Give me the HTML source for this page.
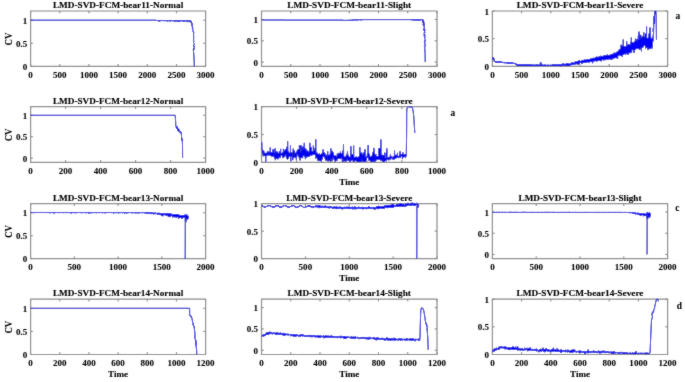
<!DOCTYPE html>
<html><head><meta charset="utf-8"><style>
html,body{margin:0;padding:0;background:#fff;}
svg{display:block;}
text{stroke:#000;stroke-width:0.12px;}
text.k{stroke-width:0.08px;}
</style></head><body>
<svg width="685" height="382" viewBox="0 0 685 382" font-family="Liberation Serif, serif" font-weight="bold" font-size="8.6" fill="#000">
<defs><filter id="bl" x="0" y="0" width="685" height="382" filterUnits="userSpaceOnUse"><feConvolveMatrix order="3" kernelMatrix="1 2 1 2 24 2 1 2 1" divisor="36" edgeMode="duplicate"/></filter>
<filter id="bt" x="0" y="0" width="685" height="382" filterUnits="userSpaceOnUse"><feConvolveMatrix order="3" kernelMatrix="1 2 1 2 24 2 1 2 1" divisor="36" preserveAlpha="false" edgeMode="none"/></filter></defs>
<g filter="url(#bl)" stroke-linejoin="round">
<rect width="685" height="382" fill="#fff"/>
<path d="M30.6 66.35v-2.3M30.6 11v2.3M59.77 66.35v-2.3M59.77 11v2.3M88.93 66.35v-2.3M88.93 11v2.3M118.1 66.35v-2.3M118.1 11v2.3M147.27 66.35v-2.3M147.27 11v2.3M176.43 66.35v-2.3M176.43 11v2.3M205.6 66.35v-2.3M205.6 11v2.3M30.6 66.35h2.3M205.6 66.35h-2.3M30.6 43.29h2.3M205.6 43.29h-2.3M30.6 20.22h2.3M205.6 20.22h-2.3" stroke="#505050" stroke-width="0.8" fill="none"/>
<rect x="30.6" y="11" width="175" height="55.35" stroke="#868686" stroke-width="1.2" fill="none"/>
<defs><path id="c0" d="M30.6 20.2l125.4 0 .1 .2 .1 .2 .2-.2 .1 .4 .1-.1 .1-.3 .1 .1 .2 0 .1-.1 .1 0 .1-.1 .1 .2 .1 .1 .1-.3 .2 .2 .1 0 .1-.2 .1 .1 .1 .2 .2-.2 .1-.1 .1 .1 .1 .5 .1-.2 .1 .8 .1-.4 .2-.8 .1 .2 .1-.1 .1 0 .1 .8 .2-.4 .1-.4 .1 .8 .1-.6 .1 0 .1-.1 .1 .5 .2-.6 .1-.1 .1 .6 .1-.3 .1-.3 .2 .4 .1-.4 .2 0 .1 .2 .1 .1 .1 .1 .2-.2 .1 .2 .1-.1 .1-.1 .1 .2 .1 .1 .2-.1 .1-.4 .1 .6 .1-.4 .1-.2 .1 .1 .2 .4 .1 0 .1-.4 .1 .1 .1-.1 .2 .3 .1 .4 .1-.7 .1 .5 .1-.4 .1 .2 .1 0 .2-.2 .1 .3 .1-.3 .1 .5 .1-.6 .2 .2 .1 .1 .1-.3 .1 .7 .1-.2 .1-.1 .1-.1 .2 0 .1-.3 .1 .2 .1 0 .1 .2 .2-.3 .1-.1 .1 .1 .1 .4 .1 .5 .1-1 .1 0 .2 .6 .1-.5 .1 .2 .1 .1 .1-.4 .2 .3 .1 .2 .1-.3 .1 .2 .1 .3 .1 .1 .1-.8 .2 .3 .1-.2 .1 0 .1 .3 .1-.4 .1 0 .2 .3 .1-.1 .1 .3 .1-.2 .1 .4 .1 0 .2 .5 .1-.9 .1 .9 .1-.7 .1 .1 .2-.3 .1 .1 .1-.1 .1-.1 .1 .1 .1-.1 .1 0 .2-.1 .1 .3 .1-.2 .1 .3 .1-.5 .2 .6 .1-.1 .1 .2 .1-.6 .1 0 .1 .2 .1-.1 .4 0 .1 .4 .1-.2 .2-.1 .1 .2 .1 0 .1-.3 .1 .6 .1-.2 .1-.5 .2 1 .1-1 .1 .4 .1-.3 .1 .2 .2-.2 .1 .2 .1 0 .1 .6 .1-.8 .1 .2 .1-.3 .4 0 .1 .1 .1 .7 .1-.4 .2-.1 .1 .2 .1-.2 .1 .3 .1-.4 .1-.1 .2 .3 .1 .9 .1-.9 .1 .1 .1-.1 .2-.3 .1 .6 .1-.6 .1 .1 .1 .4 .1-.1 .1 .8 .2-1.3 .1 .8 .1-.3 .1-.4 .1 .2 .2 .2 .1 .4 .1 .1 .1-.5 .1-.3 .1 .2 .1-.3 .2 .5 .1 .3 .1-.4 .1-.3 .1 .1 .2 0 .1-.1 .1 .1 .1-.2 .1 .5 .1-.3 .1-.1 .2 0 .1-.1 .1 .1 .1 .2 .1-.2 .2-.1 .1 .3 .1-.1 .1 .4 .1-.4 .1 .3 .1-.2 .2-.2 .1 .1 .1 0 .1 .7 .1-.7 .1-.1 .2 .5 .1-.3 .1 0 .1 .2 .1-.5 .1 .1 .2 0 .1 .6 .1 .1 .1-.5 .1 .4 .2-.4 .1-.1 .2 0 .1-.2 .1 .1 .1 .3 .2-.1 .1-.1 .1 .2 .1-.3 .1 .1 .2-.1 .1 .3 .1-.1 .1 .5 .1-.3 .1-.4 .1 .6 .2-.7 .1 .1 .1 .4 .1 0 .1-.2 .2-.1 .1 1 .1 .3 .1-1.1 .2 0 .1-.3 .2 .8 .1-.6 .1 .2 .1-.2 .1-.1 .2 .1 .1 .2 .1-.2 .1-.1 .1 .2 .1 .3 .1-.5 .2 .3 .1 0 .1-.4 .1 .3 .1-.3 .6 .2-.6 .5 1 0-.7-.3 .8 2-.7-.9 1.4 .9-1.1-.6 1.2 1.2-.6 .1 .5 .1-.7 .3 1.1 .7-.6 .9 .6 .4-1-.2 1.4 1.1-.8 1.7 .6-.2 0 1.1 .3 .7-.1 1.5 1 .5-.7 1.8 .4 .3-.3 1.7 .6 .6-.5 1.1 .2 1.9-.1 .9 .4 1.2-.7 .6 1.2 1.1-.9 1.7 .5 .1-.9 .7 1.3 .2-.7 2.6 .8 .3-1.3-.1 .7 8 .2 5.6 .1 3.7"/></defs>
<use href="#c0" stroke="#1616a8" stroke-width="0.95" fill="none"/>
<use href="#c0" stroke="#0000ff" stroke-width="0.5" fill="none"/>
<path d="M261.5 66.35v-2.3M261.5 11v2.3M290.75 66.35v-2.3M290.75 11v2.3M320 66.35v-2.3M320 11v2.3M349.25 66.35v-2.3M349.25 11v2.3M378.5 66.35v-2.3M378.5 11v2.3M407.75 66.35v-2.3M407.75 11v2.3M437 66.35v-2.3M437 11v2.3M261.5 62.09h2.3M437 62.09h-2.3M261.5 40.8h2.3M437 40.8h-2.3M261.5 19.52h2.3M437 19.52h-2.3" stroke="#505050" stroke-width="0.8" fill="none"/>
<rect x="261.5" y="11" width="175.5" height="55.35" stroke="#868686" stroke-width="1.2" fill="none"/>
<defs><path id="c1" d="M261.5 19.5l.1 .1 .3 0 .1 .1 .1 0 .1 .1 .2 0 .2 .1 .1 0 .1 .1 22.5 0 .1 .1 58 0 .1 .4 .1-.1 .2-.2 .1 .2 .1-.1 .1-.1 .1-.1 .1 .4 .2-.4 .1 .2 .1 0 .1-.2 .1 0 .1 .3 .2-.2 .3 0 .1-.1 .3 0 .1 .4 .1-.4 .1 0 .1 .1 .1 0 .2 .2 .1-.2 .1-.1 .1 .4 .1-.1 .1-.3 .2 .1 .1-.1 .1 .2 .1-.1 .1 .4 .1-.4 .2 .1 .1-.2 .1 .2 .1-.1 .1 0 .1-.1 .2 .1 .1-.2 .3 0 .1 .1 .2-.1 .1 0 .1 .2 .1-.1 .1-.1 .2 0 .1 .3 .1-.3 .1 .4 .1-.4 .1 0 .2 .1 .1-.1 .1-.1 .1 .3 .1 0 .1-.2 .2 .1 .1 .1 .1 0 .1-.1 .1-.1 .1 0 .2-.1 .1 .2 .1 .3 .1-.3 .1-.2 .1 0 .2 .1 .1 0 .1-.1 .1 0 .1 .4 .1-.5 .2 .4 .1 .1 .1-.5 .1 .4 .1-.2 .1-.1 .2 0 .1-.1 .1 .1 .1-.1 .1 0 .1 .1 .2 .1 .1-.2 .1 .4 .1-.4 .1 .1 .2-.1 .1 0 .1 .1 .1 0 .1-.1 .1 .1 .2 .1 .1-.2 .1 .6 .1-.6 .1 .2 .1 0 .2-.2 .1 .1 .1 .1 .1-.2 .1 .2 .1-.2 .2-.1 .1 .1 .1 0 .1 .4 .1-.5 .1 0 .2 .3 .1 .2 .1-.2 .1-.1 .1 .1 .1-.1 .2 0 .1-.1 .1 0 .1-.1 .1 .3 .1-.2 .2 .3 .1-.1 .1-.2 .1-.1 .1 .1 .1-.1 .2 .1 .1 .1 .1 0 .1-.1 .1 .2 .2 0 .1 .2 .1-.4 .1-.2 .1 .4 .1 0 .2 .1 .1-.2 .1-.2 .1 0 .1 .1 .1-.1 .2 .2 .1-.2 .1 .4 .1-.2 .1 0 .1-.3 .2 .3 .1-.1 .1 0 .1-.2 .1 .3 .1-.2 .2 .2 .1-.3 46.9 0 .1 .4 .1 0 .1-.2 .2 .1 .1 .2 .1-.2 .1 .1 .1-.1 .1-.2 .2-.1 .1 .1 .1 .1 .1 .1 .1 .1 .1-.1 .2-.1 .1-.2 .1 .1 .1 .5 .1-.5 .1 .5 .2-.5 .1 .5 .1-.4 .1 .1 .1-.3 .2 .7 .1-.1 .1-.2 .1-.4 .1 .1 .1 .1 .2-.1 .1 .2 .1-.2 .1 .1 .1 .1 .1 0 .2 .6 .1-.5 .1-.4 .1 1 .1-.9 .1 0 .2 .4 .1 0 .1-.3 .1 0 .1 .2 .1-.3 .2 .4 .1-.2 .1-.1 .1 .4 .1-.5 .1 0 .2 .5 .1-.6 .1 .1 .1 .4 .1-.3 .1 .5 .2-.2 .1-.5 .1 .5 .1-.5 .1 .3 .1-.2 .2 .1 .2 0 .1 .4 .1-.3 .1-.2 .2 .1 .1 .1 .1-.1 .1-.1 .1 .8 .2-.3 .1-.5 .1 0 .1 .5 .1 0 .1-.4 .2 .1 .1 0 .1-.1 .1-.1 .1 .1 .1-.2 .2 .1 .1 .1 .1-.2 .7-.1-.4 .7 1.2-.2-.8 .6 1.1 .4-1.4 .3 1-.3-.7 .1 1.5 .2-1.5 1.3 1.1-.4-.9-.2 1.6 .1-.9 .9 .6 .6-1.2 1.1 1.3-1.4-.5 1.8 1-.7-.7 .6 .6 1-.8 1.1 .9 .3-1 1.2 1.2 .1-1 .7 1.3 .4-1.6 .5 1.7 .3-1.2 1.6 1.1 0-1 1.5 .7 .7-.9 .5 1.5 .8-1.6-.2 1.1 .7-.5 .5 1 1.2-1.4 .5 1.5 1.2-.9 1.1 1 .1-1.2 .9 .7 1.4-.5 .1 1.2 1.8-1.7 .2 1 1-.4 .8 .4 6.6 .1 8.5"/></defs>
<use href="#c1" stroke="#1616a8" stroke-width="0.95" fill="none"/>
<use href="#c1" stroke="#0000ff" stroke-width="0.5" fill="none"/>
<path d="M492.4 66.35v-2.3M492.4 11v2.3M521.6 66.35v-2.3M521.6 11v2.3M550.8 66.35v-2.3M550.8 11v2.3M580 66.35v-2.3M580 11v2.3M609.2 66.35v-2.3M609.2 11v2.3M638.4 66.35v-2.3M638.4 11v2.3M667.6 66.35v-2.3M667.6 11v2.3M492.4 66.35h2.3M667.6 66.35h-2.3M492.4 38.67h2.3M667.6 38.67h-2.3M492.4 11h2.3M667.6 11h-2.3" stroke="#505050" stroke-width="0.8" fill="none"/>
<rect x="492.4" y="11" width="175.2" height="55.35" stroke="#868686" stroke-width="1.2" fill="none"/>
<defs><path id="c2" d="M492.4 59.5l.1-.8 0-.1 .1-.4 0 .1 .1 .2 .1-.5 .1-.6 0-.3 .1 .2 0 .2 .1-.1 .1-.2 0 .5 .1-.5 0 .2 .1 .4 .1 .1 .1 .5 0 .2 .1-.2 0 .3 .1-.2 .1 .9 0 .5 .1-.6 0 .3 .1 .7 .1 .4 0-.2 .1 .7 0-.2 .1 .8 0-.4 .1 .6 .1-.5 0-.5 .1 .5 0-.2 .1 .4 .1 .1 0 .1 .1-.6 0 .3 .1-.5 0 .8 .1-.2 .1-.1 0-.3 .1-.1 0 .7 .1 .1 .1 .2 0-.8 .1 .4 0 .1 .1-.1 0 .7 .1-.2 .1-.7 0 .1 .1 .1 0 .3 .1-.4 .1-.3 0 .8 .1-.3 0 .1 .1-.2 0 .1 .1 .1 .1 .2 0-.2 .1 .1 0-.1 .1 0 .1-.2 0 .3 .1 0 0-.4 .1 .4 .1-.3 .1 .1 0 .1 .1 0 0 .4 .1-.5 .1-.2 0 .2 .1 .6 0-.5 .1 .3 0-.2 .1-.1 .1 .4 0-.7 .1 .4 0-.2 .1 0 .1-.2 0 .1 .1 .7 0-.4 .1 .6 0-.5 .1-.3 .1 0 0-.1 .1 .4 0-.1 .1 0 .1-.3 0-.1 .1 .6 0-1.2 .1 1.1 0 .1 .1-.3 .1 0 .1 .4 0-.6 .1 .4 .1-.4 .1 .8 0-.1 .1 0 .1-.3 .1 0 0 .3 .1-.4 0-.2 .1 .7 .1-.3 0-.1 .1 .1 .1-.5 .1 .1 0 .2 .1 .4 0-.8 .1 .5 0 .3 .1-.1 .1 .1 0-.8 .1 .6 .1 .6 .1-.8 0 .5 .1 .1 0-.5 .1 .4 0-.5 .1 0 .1 .8 0-.5 .1 .4 0-.4 .1-.2 .1 .6 0-.9 .1 .6 0 .3 .1-.3 0-.3 .1 .6 .1-.4 0 .4 .1-.7 0 .3 .1 .2 .1-.4 0 .6 .1-.2 0-.6 .1 .5 0-.4 .1 .3 .1 .3 0-.1 .1-.1 0 .1 .1 .2 .1-.1 0 .2 .1-.4 0-.1 .1-.1 0 .8 .1-.8 .1 .3 0 .4 .1-.4 0-.2 .2 0 0-.1 .1 .1 0 .2 .1 .6 0-.4 .1-.3 .1 .3 0-.4 .1 0 0 .2 .1-.5 .1 .8 0-.5 .1 .4 0 .1 .1-.4 0 .3 .1-.4 .1 .6 0-.3 .1 .2 0-.1 .1 0 .1 .2 0-.5 .1 .6 0-.1 .1-.5 .1 .1 .1 .1 0-.6 .1 1 0-.1 .1 0 .1-.5 0 .2 .1-.2 .1 .4 0 .1 .1 .1 .1-.9 0 .3 .1 .2 0 .2 .2 0 .1 .6 0-.6 .1 .1 .1-.2 .1-.2 0 .3 .1-.2 0 .9 .1-.4 .1-.8 0 .8 .1-.2 0-.3 .1 .5 .1-.5 0 .6 .1 .2 0-.2 .1 .1 0-.5 .1 .1 .1-.1 0 .3 .1-.9 0 .7 .1 0 .1-.2 0 .2 .1 .2 0-.2 .1-.3 0 .1 .1-.1 .1 .5 .1-.7 0 .6 .1-.2 .1-.1 0-.2 .1 .8 0-.2 .1 0 0-.1 .1 .6 .1-.6 0 .8 .1-.9 0-.1 .1 0 .1 .5 0-.6 .1 .5 0 .1 .1 0 .1-.3 .1-.2 0 .8 .1-.4 0-.4 .1 .2 .1-.1 0 .6 .1-.7 0 .7 .1-.5 0-.3 .1-.1 .1 .3 0-.1 .1 .5 0-.1 .1-.4 .1 .3 0 .1 .1 .3 0-.4 .1-.1 0 .4 .1-.1 .1-.6 0 .4 .1 .1 0 .3 .1-.2 .1-.1 0-.4 .1 .6 0-.7 .1 .7 0-.1 .1-.3 .1 .3 0 .1 .1-.1 0-.2 .1 .6 .1-.4 .1 .1 0-.4 .1 .4 .1-.1 .1-.2 0 .2 .1-.4 0 .6 .1-.6 .1 .6 0-.2 .1-.1 0-.5 .1 .4 0 .3 .1-.4 .1 .4 0 .2 .1-.4 0 .1 .1-.2 .1 .4 0-.2 .1-.1 0 .1 .1 .1 .1 .2 0-.4 .1 .2 .1 .2 .1 .3 .1-.3 0-.1 .1 .2 0-.2 .1 .2 .1-.3 0 .5 .1 .4 0-.5 .1 .2 0 .2 .1-.4 .1 .2 0-.1 .1 .3 0-.1 .1 0 .1-.4 0 .7 .1-.1 0-.1 .1 .6 .1-1 .1 1.1 0-.6 .1 .4 .1 .4 .1-.3 0-.4 .1 .7 0-.6 .1 .1 0-.5 .1 .7 .1-.4 0 .1 .1 .3 0 .4 .1-.9 .1 .8 0-.3 .1-.3 0-.1 .1 .6 0-.3 .1 .1 .1-.4 0-.4 .1 1.2 0-.7 .1 1 .1-.8 0 .3 .1-.8 0 .5 .1 .2 .1 0 .1-.2 0 .1 .1-.2 0-.3 .1 .3 .1 .5 0 .1 .1-.2 0-.5 .1 .4 .1-.2 .1 .5 0-.1 .1-.5 0 .3 .1 0 .1-.2 0 .2 .1 .1 0-.1 .1-.3 0 .2 .1 .3 .1-.2 0-.3 .1-.3 0 .8 .1-.4 .1 .2 0-.3 .1 .1 0-.3 .1 .3 0 .2 .1 0 .1-.2 .1-.6 0 .2 .1 .8 .1-.4 0 .5 .1 .1 0-.7 .1 .1 0 .4 .1-.7 .1 .7 .1-.5 0 .2 .1 .1 .1-.1 .1 .1 .1 .5 .1-.2 0-.5 .1 .3 0-.3 .1-.2 0 .4 .1-.1 .1-.5 0 .4 .1-.4 0 .1 .1 .2 .1 .3 0 .2 .1 .1 0-.5 .1 0 0 .2 .1-.3 .1 .4 0-.4 .1 .3 .2 0 0-.7 .1 1.1 0-.5 .1-.3 0 .2 .1 .3 .1-.6 0 .8 .1 0 0-.5 .1 .6 .1 .3 0-.9 .1 0 .1 .3 0-.1 .1 .3 .1-.8 0 .3 .1 0 0 .7 .1-.7 .1-.2 0 .1 .1 .1 0 .2 .1 .1 0-.2 .1 0 .1 .1 0 .1 .1-.5 0 .8 .1-.4 .1 .2 0-.5 .1-.1 0 .1 .1 .1 0 .6 .1-.9 .1 .4 0 .2 .1-.1 0 .1 .1-.2 .1 .1 0 .2 .1 .6 0-.7 .1-.2 .1 .2 .1-.2 0-.1 .1 .4 0-.5 .1 .9 .1-.2 0-.1 .1 .4 0-.3 .1-.7 .1 .4 .1-.5 0 .4 .1 .2 0-.2 .1 .1 .1-.2 0 .6 .1-.7 0 .4 .1-.3 0 .6 .1-.3 .1-.1 0-.2 .1 .5 0-.8 .1 .4 .1 .3 0-.5 .1 .3 0-.3 .1-.3 0 .4 .1 .4 .1-.1 0-.2 .1 0 0 .4 .1-.1 .1-.4 0-.4 .1 1.4 0-1 .1 .3 .1-.3 .1 .2 0 .3 .1 .1 0 .2 .1-.9 .1 .4 0 .1 .1-.1 0 .3 .1-.4 .1-.3 .1 .8 0-.8 .1 .6 0 .3 .1-.2 .1-.1 0-.2 .1 .3 0 .1 .1-.4 .1-.6 0 .8 .1-.4 0 .2 .1-.8 0 1.3 .1-.8 .1 .6 0-.2 .1-.1 0-.9 .1 1.1 .1 .3 0-.9 .1 .6 0-.1 .1-.1 .1 0 .1-.1 .1-.1 0 .3 .1 .1 .1 .1 0-.5 .1 .2 0-.1 .1 0 0-.3 .1 .4 .1-.2 0 .6 .1-.1 0-.2 .1 .3 .1-.6 0 .6 .1-.4 0 .7 .1-.4 0-.2 .1 0 .1 .4 0-.5 .1-.2 0 .1 .1 .3 .1 0 0 .2 .1-.5 0-.3 .1 .6 0 .3 .1-.5 .1-.1 0 .9 .1-.8 0-.5 .1 .3 .1 .1 .1-.1 0 .5 .1 0 0-.4 .1 .3 .1-.2 0 .6 .1-.7 0-.1 .1 .3 .1-.1 0-.4 .1 .8 0-.1 .1 .1 0-.2 .1 .1 .1-.2 0 .1 .1 .3 .1-.8 .1 .4 .1 0 .1-.2 .1 .3 .1 .1 0 .1 .1 0 0-.7 .1 .6 .1 .3 0-.3 .1 0 0-.3 .1 .3 .1-.4 0 .1 .1-.3 0-.2 .1-.2 0 .4 .1 .7 .1-.2 0-.2 .1-.5 0 .4 .1-.1 .1 .3 0-.2 .1 0 0 .3 .1-.3 0-.1 .1 .3 .1-.3 0-.2 .1 .5 .1 .1 .1 .1 0-.2 .1 .1 .1 .1 0 .2 .1-.1 .1-.4 0 .4 .1-.1 0-.6 .1 .1 .1 .5 0-.4 .1 .4 0-.6 .1 .6 0-.2 .1-.4 .1 .6 0-.5 .1 .5 0-.2 .1 .1 .1-.1 .1 0 0 .3 .1-.5 .1-.1 .1-.1 0 .8 .1-.7 .1 .5 .1-.5 0-.1 .1 .6 0 .2 .1-.3 0-2.9 .8 0 .1 3.2 .1-.3 0-.2 .1 .2 .1-.2 0-.1 .1 .1 0 .4 .1-.2 0-.4 .1 .6 .1-.2 0 .1 .1-.1 0 .3 .1 0 .1-1.1 0 .5 .1 .5 0-.2 .1-.2 0 .3 .1-.3 .1 .3 .1-.1 0 .1 .1 .5 .1-.6 0-.1 .1-.1 0 .4 .1-.3 .1 .6 .1 .1 0-.8 .1 .4 0-.5 .1-.3 .1 .7 0 .1 .1-.2 0-.2 .1 .5 .1-.7 0 .1 .1 .1 0 .3 .1-.4 .1 .6 .1-.9 0 .7 .1-.2 0 .2 .1-.2 .1-.2 0 .5 .1 .2 0-.3 .1 .2 0-.1 .1-.2 .1 0 0-.4 .1 .7 0-.4 .1 .2 .1-.5 0-.3 .1 .6 0-.4 .1 .6 0 .3 .2 0 0-.1 .1-.2 0-.4 .1 .1 .1 .1 0 .2 .1 .1 0-.2 .1 0 0-.1 .1 0 .1 .1 0 .5 .1-.2 0-.1 .1-.7 .1 .6 0-.3 .1-.2 0 .3 .1 .2 .1 .2 .1-.4 0-.2 .1 .2 0-.1 .1 0 .1-.3 0 .7 .1-.2 0-.2 .1-.1 0 1 .1-.5 .1-.1 0 .2 .1-.5 0 .2 .1 .1 .1 .4 0-.1 .1-.1 0-.4 .1 .5 0 .2 .1-.2 .1-.2 0-.6 .1-.3 0 .9 .1-.4 .1-.1 .1 .4 0 .3 .1-.2 0 .4 .1-.6 .1-.2 0 .8 .1-.5 0-.1 .1-.3 .1 0 0 .1 .1 .4 .1-.5 0 .5 .1-.1 .1-.5 0 .4 .1 .4 0-.3 .1-.2 .1 .2 0-.4 .1 0 0 .5 .1 0 0-.1 .1 .3 .1-.4 0 .1 .1-.3 0 .4 .1 .1 .1-.7 0 .7 .1-.1 0 .1 .1-.2 .1 .2 0-.2 .1 .1 .1-.3 0-.1 .1 .1 .1 .3 0-.3 .1 .2 0-.1 .1 .5 .1-.7 0 .2 .1-.5 0 .3 .1 .5 0 .1 .1-.8 .1 .6 0-.4 .1 .3 0-.8 .1 .6 .1-.4 0 .1 .1 .5 .1-.6 0 .5 .1 .2 .1-.6 0-.5 .1 .8 0-.4 .1 .5 .1-.5 0 .5 .1-.5 0 .2 .1 .3 0-.2 .1 .3 .1 .2 0-.1 .1-.3 0 .3 .1-.5 .1 0 .1 .3 0-.2 .1 .1 0-.5 .1 .7 .1-.1 0-.1 .1 0 0 .2 .1-.1 .1-.5 0 .5 .1-.5 0-.4 .1 .3 0 1 .1-.8 .1 0 .1 .8 0-.9 .1 .7 .1-.9 0 .1 .1-.5 0 1 .1 .4 0-.9 .1 .1 .1 .4 0-.6 .1 .2 0 .7 .1-.3 .1 0 0-.1 .1-.1 0 .3 .1-.2 0-.3 .1 .3 .2 0 0 .6 .1-.7 .1 .4 0-.4 .1 .5 0-.8 .1 .2 0 .6 .1-.6 .1 .4 0-1 .1 .5 0 .5 .1-.4 .1 .1 0-.5 .1 .3 .1 .6 0-.7 .1-.5 .1 .5 0 .3 .1-.1 0 .4 .1-.4 .1 .5 0-.5 .1 .2 0 .1 .1-.5 .1 .8 0-.6 .1 .5 0-1.2 .1-.1 0 .5 .1-.4 .1 .5 .1 .4 0 .1 .1-.4 .1 .3 .1-.5 0 .3 .1 .6 0-.5 .1 .2 .1-.2 0 .3 .1-.9 0-.3 .1 1.2 .1-.7 .1 .7 0-.5 .1-.5 0 .2 .1-.3 .1 1.1 0-.2 .1-.4 .1 .1 .1 .2 .1 .1 0-.5 .1 1.4 0-1.9 .1 .9 .1 .4 0-.8 .1 .8 0-.8 .1 .3 .1-.4 0-.1 .1-.2 0 .8 .1-.1 0-.1 .1 .6 .1-.9 0 .2 .1 .6 0-1.1 .1-.1 .1 1.2 0-.8 .1-.3 0 .2 .1 .8 0 .1 .1-.5 .1 .1 0-.2 .1 .1 0-.3 .1 .5 .1-.2 0-1.4 .1 1.4 0-.4 .1 .2 .1 .5 .1-.7 0 .3 .1-.4 0-.6 .1 .9 .1-.3 0 .8 .1-.5 0-.7 .1 .8 0 .2 .1-.3 .1 .1 0 .1 .1 0 0-1.1 .1 1.3 .1-.2 0 .1 .1-.9 0 .8 .1-.8 0 .5 .1 .1 .1 .7 0-1.3 .1 .3 0 .1 .1 .3 .1 .1 0 .4 .1-1.1 0 .4 .1 .3 0 .1 .1-.4 .1 .1 0-.8 .1 .4 0 .6 .1 .3 .1-.4 0 .3 .1-.5 0-.2 .1-.1 .1 .1 0 .3 .1-.4 0 .8 .1-.4 0-.5 .1 .3 .1 .7 .1 .2 0-1.7 .1 1.7 .1-.7 0-1 .1 .3 0-.1 .1 .9 0-.6 .1-1.2 .1 1.6 0-.2 .1 .3 0-.1 .1-.2 .1-.6 0 1.2 .1 .3 0-.8 .1-.1 0-.6 .1 .4 .1 .7 0-.7 .1-.3 0 .5 .1 .3 .1-.5 0 .5 .1 .8 0-1.7 .1 1.4 0-.5 .2 0 0-.1 .1 .7 0-1.1 .1 .3 .1 0 0-.6 .1 0 0-.1 .1-.3 0 .7 .1 1.1 .1-1 0 .1 .1 0 0 .4 .1 .1 .1-.9 0-.1 .1 1.1 0-.9 .1 .4 0 .1 .1-.6 .1 .4 0 .3 .1-.3 0 1.1 .1-.8 .1-.1 0 .6 .1-.9 0-.1 .1 .5 0-.2 .1-.5 .1-.3 0 1 .1-.6 0-.4 .1 .6 .1 .4 .1-.3 0 .4 .1-1.7 0 1.4 .1-.5 .1 .1 0-.3 .1 .6 0 .5 .1-1.7 .1 .9 0-.1 .1-.1 0-.6 .1 .3 0-.3 .1 .2 .1 .4 0-.1 .1 .6 0 .7 .1-1 .1 .5 0-2.3 .1 .6 0 .3 .1 1 0-1.6 .1 2.3 .1-.4 0-.2 .1 .1 0-.7 .1-.1 .1-1 0 .5 .1-.1 0 .4 .1 .4 .1 .3 0 .5 .1-.4 0-.3 .1-.8 0 1.5 .1-.2 .1-1 0 .8 .1-.9 0 .5 .1 .2 .1 .3 0-.8 .1 .4 0-.1 .1 0 0-.5 .1 0 .1 1.2 0-1 .1-.4 0-.4 .1 .1 .1 .4 0 .8 .1-.2 0-1.1 .1 1 0-1.1 .1-.2 .1 1.5 0-1 .1 .4 0-1.5 .1 .8 .1 .9 0-.6 .1 .8 0-.5 .1-.3 0 .1 .1-.2 .1 .8 0 .7 .1-1 0 .3 .1-.1 .1-2 0 .7 .1 .9 0 .8 .1-.1 0-1.2 .1-.5 .1 1 0-.3 .1-.1 0-.6 .1 2 .1-1.4 0-.2 .1-.4 0 .4 .1 1 0-.4 .1 .7 .1-1.3 .1-.2 0 1 .1 .1 .1-1.9 0 1 .1-1.2 0 1 .1 1.3 0-1.6 .1-.4 .1 1.2 0 1.1 .1-1.9 0 .6 .1-.4 .1 2.2 0-2.3 .1 2.3 0-1.4 .1-1.3 0 2 .1 0 .1-1 0-1.6 .1 0 0 1.6 .1-1.2 .1 .3 0 .2 .1 0 0 .8 .1-1.2 0-.2 .1-1.3 .1 1.4 0 2.5 .1-1 0-1.1 .1 .1 .1 1.5 0-1.3 .1 .1 0-.2 .1 0 0-.8 .1-.4 .1 .6 0 1.3 .1-.2 0-.1 .1-.5 .1 .2 .1 .4 0-1.5 .1 .1 .1-.1 0 .8 .1-.4 0 1.1 .1 0 0-.4 .1-.9 .1 .6 0 .8 .1-1 0-.3 .1 .2 .1 .7 0-.6 .1 .4 0-.1 .1-.2 0-.7 .1-.9 .1 .2 0 .8 .1 .8 0-.1 .1 0 .1-1.2 0 3.2 .1-2.5 0 1.8 .1-1.6 0-1.1 .1 1.8 .1 1.1 0-2.9 .1-.2 0 .8 .1-.6 .1 1.7 0-1.7 .1-.4 0 .9 .1 .2 0-.8 .1 .1 .1 1.6 0-1.8 .1 .5 0 .5 .1-1 .1 .3 0 .2 .1 1 0-1.1 .1 1.6 0-.8 .1 1.3 .1 0 0-1.9 .1 .5 0-.2 .1-.4 .1 .2 0 1 .1-.8 0 .1 .1 .4 0-.4 .1 .2 .1 .3 0-.3 .1-.5 0-1.6 .1 2.5 .1-1.2 0 1.7 .1-2.6 0 1.6 .1-.4 0-1 .1 .2 .1 2.2 0-1.8 .1 .7 0-.8 .1 .4 .1-.5 0 .4 .1 .4 0-1.2 .1 2.4 0-1 .1 .5 .1-.8 0 .3 .1-.3 0 .3 .1 0 .1 1 0-1.4 .1-.4 0 .8 .1 .1 .1-2.2 .1 1.4 0-.2 .1 .6 0 .2 .1 .3 .1-2.2 0 3 .1-1.9 0 .3 .1 .2 0 1.2 .1-.3 .1-2.1 0 1.6 .1-1.5 0 .2 .1 .1 .1-.2 0 1.8 .1-.7 0-1.1 .1 1.9 .1-2.8 0 2.1 .1-.5 0 .9 .1-1.3 0 1 .1-.5 .1 .9 0-2.3 .1 2.7 0-2 .1 .2 .1-.2 0 1.4 .1-2 0 .1 .1 .7 0-.1 .1 .4 .1-.8 0 1.5 .1-1.4 0 .1 .1 1.8 .1 1.2 0-2.5 .1 .1 0-1.4 .1 1.1 0 .6 .1 .8 .1-1.3 0 .5 .1 .5 0-1 .1-1.1 .1 .9 0 1.1 .1-1.3 0 1.4 .1 .4 0-2 .1 1 .1-1.7 0 .8 .1 1.1 0-1 .1-1.1 .1 1.5 0 .8 .1-.4 0 .2 .1 .3 0 .1 .1-1.7 .1-.7 0 1.5 .1-1.2 0-.1 .1-.8 .1 1.9 0 .1 .1-.8 0 .3 .1-.2 0-1 .1 1.8 .1-.7 0 1.2 .1-.9 0 .6 .1 0 .1-.5 0 .2 .1-.9 0-.4 .1 2.4 0-2.6 .1 3.3 .1-2.6 0-.5 .1 1.4 0-.4 .1 .6 .1-1.8 0 4.3 .1-2.4 0 1.1 .1-2.3 0-1.2 .1 .1 .1 .6 0 .4 .1 1.1 0-2.2 .1 .7 .1 1.5 0 .5 .1-.7 0-1.9 .1-.2 0-.4 .1 2.6 .1-.5 0-1.8 .1 1.2 0-.6 .1 2.2 .1-1 0-.4 .1 .4 .1 1.3 0-3.5 .1 1.6 .1 1.7 0-2.8 .1 1.1 0-.7 .1 1 .1 .6 .1-1.2 0-.5 .1 .3 .1-.2 0-.6 .1 1 0-.8 .1-.2 0 .9 .1 .4 .1 .4 0 .9 .1 .4 0-3.3 .1 1.5 .1 .6 0-2.4 .1 .7 0 1 .1-1.1 0 1.3 .1-.6 .1-1.6 0 .8 .1 1.5 0-1.1 .1-.6 .1 1.5 0 .3 .1-2.6 0 2.4 .1 1.2 0-1.7 .1-2.4 .1 1.8 0-.4 .1 3.6 0-1.9 .1-2 .1 1.8 0-2 .1 1 0 .1 .1-1.5 0 2.5 .1-.1 .1-.7 0-.1 .1 2.2 0-3.4 .1 1.2 .1 .4 0-.9 .1 1.2 0-1.9 .1 1.3 0-.8 .1 1.9 .1-.7 0-.8 .1 1.5 0-.3 .1-.7 .1-1.4 0 .4 .1-.2 0 .7 .1-.7 0-.8 .1 1.6 .1-.3 0-.2 .1 3.1 0-2.3 .1-.6 .1-.4 0 1.3 .1-1.6 0 1.9 .1-.5 0-2.3 .1 3.6 .1-1.5 0 .1 .1-.1 0 .5 .1-1.4 .1 2.1 0 .3 .1-2.2 0 2 .1-1.9 0 .4 .1 .9 .1-.4 0-.3 .1-.7 0 1.3 .1-.5 .1 1.4 0-1.4 .1 2 0-2.3 .1 .5 0-3.1 .1 1 .1 1.7 0-1.3 .1 .8 0 1.7 .1 1.6 .1-4.3 0 .8 .1 2.9 0-3.2 .1-.3 0 1.9 .1-1.8 .1 3.1 0-1.9 .1-.3 0-.9 .1 .4 .1 .3 0-.5 .1 1.5 0-2.6 .1 2.2 .1-1.4 0 1 .1 .3 0-1.1 .1 .2 0-1.1 .1 .3 .1 2 0-1.3 .1 .5 0 1.1 .1 .4 .1-1.8 0 1 .1 1.1 0-1.6 .1-.4 0 .1 .1 1.6 .1-.8 0-2.4 .1 2.7 0-.6 .1-3.4 .1 2.5 0 1.1 .1 1.8 0-2.9 .1 2.2 0-1.8 .1 1.1 .1 1 0-4.2 .1 2.2 0-1.3 .1 .2 .1 1.9 0-1.1 .1 .6 0-1.7 .1 .7 0 1 .1-2.6 .1 1.4 0 .1 .1 1.6 0-1.6 .1 2.4 .1-2.5 0 1.8 .1-1.4 0 .6 .1-.7 0-.2 .1 .6 .1 0 0 1.8 .1 .5 0-4.1 .1 .9 .1 2.7 0-4.5 .1 3.4 0-1.6 .1 .1 0 .4 .1-.6 .1 2.6 0-1.8 .1 .3 0-.5 .1 .5 .1 .5 0 .1 .1-2.2 0 2.3 .1-1.6 .1 .6 .1-.7 0-.2 .1 1.4 0-1.1 .1-2.1 .1 3.9 0-1 .1 .6 0-3.7 .1 4.5 0-1.9 .1-1.2 .1 2.4 0-1 .1 .8 0 .8 .1-1.7 .1-.8 0 1.2 .1-.8 0-.7 .1-.7 0 3.3 .1-2.5 .1 1.7 0 1.7 .1-1.6 0-1.9 .1 .5 .1 1.9 0-3.7 .1 1.6 0 .6 .1 .7 0-1.4 .1 1.1 .1-2.1 0 1.2 .1-.5 0 1.3 .1 1.6 .1-2.8 0 2.1 .1-1.2 0-.2 .1 1.1 .1-2.3 0 3.2 .1-4.1 0 2.9 .1-2.2 0-.4 .1 2.9 .1-.2 0-2.3 .1 1 0 .1 .1 2.7 .1-.3 0-3.1 .1-1.2 0 2.9 .1 .2 0-1.5 .1-.4 .1-.1 0 1.4 .1 2 0-4.8 .1 2.8 .1-2.5 0 4.5 .1-3.3 0 1.2 .1 .8 0-2.9 .1-.5 .1 2.6 0-1.8 .1 2.5 0-.7 .1-.5 .1 .1 0-1.5 .1 2.7 0-3.2 .1 0 0 1.7 .1 1.4 .1 1.7 0-3.4 .1 .9 0-1.2 .1 1.7 .1-1.6 0 .1 .1-.1 0-.5 .1 0 0-1 .1 2.5 .1-2.2 0 .8 .1 .8 0 .9 .1-3.7 .1 1.8 0 1.1 .1-.9 0 .1 .1 .7 0 1.3 .1-2.3 .1 .4 0 .2 .1-1.9 0 3.4 .1-.6 .1-1.7 0-1 .1 .3 0-.2 .1 4.4 0-4.1 .1 .1 .1-.4 0 2 .1-1.8 0-.8 .1-.9 .1 2 0 2.4 .1-2.1 0-.9 .1 .1 0-2.1 .1 3.2 .1 1.2 0-.6 .1-2 0 2.2 .1 .4 .1-.4 0-3.2 .1 1.5 0 .9 .1-1.9 0 .3 .1 2.5 .1-2.8 0 .9 .1 3.6 0-1.4 .1-2.3 .1-.4 0 1.2 .1 1.1 0-2 .1 3.3 0-3.8 .1 1.1 .1-.2 0 .9 .1-2.4 0 5.1 .1-2.4 .1-2.3 0 2 .1-3.5 0 1.6 .1 1.9 .1-3 0 1.9 .1-1.1 0 1.9 .1-.1 0-2.1 .1 1 .1 1.3 0 .2 .1-2.5 0-1.8 .1 4.2 .1-2.5 0 5.8 .1-2.5 0-3.4 .1-1.5 0 2.5 .1-.9 .1 .5 0-1.3 .1 3.5 0-2.9 .1 1.7 .1-.1 0-.6 .1 .3 0 .9 .1-.9 0 1.2 .1-4.1 .1 1.3 0 1.8 .1-3.4 0 .5 .1 1.3 .1 1.7 0-1.3 .1-.6 0-1.4 .1 2.6 0 .7 .1-4.9 .1 1.5 0 1.8 .1 2.1 0-2.4 .1-1.1 .1 .6 0-.2 .1 1.3 0-1.9 .1 3 0-.3 .1 .1 .1 .2 0-4.5 .1 6.3 0-3.4 .1 2.1 .1 .5 0-2.4 .1 2.9 0-2.6 .1-4.2 0 4.2 .1-1 .1 2.2 0-2.3 .1 3.4 0-2.9 .1 .5 .1-4.1 0 4 .1-8 0 8.8 .1 1.1 0-3.5 .1-1.3 .1 3.2 0-1.9 .1 1.9 0-1.4 .1-.2 .1 3.4 0-1.2 .1-3.1 0 5.1 .1-3.5 0 .6 .1 1.1 .1-1.8 0-.5 .1-.5 0 5.8 .1-8 .1 4 0-2.8 .1 2.1 0 .8 .1-1 0-6.1 .1 3 .1 3.6 0-1.1 .1-1.7 0 1 .1 .9 .1 .5 0 1.6 .1-3.5 0-10.6 .1 7.7 0 5.3 .1-2.3 .1 1.3 0-2.5 .1 2.5 0 1.1 .1 2 .1-4.7 0 1 .1-1.9 0 3.3 .1-6.2 .1 6.4 0-2.4 .1 .2 0-1.4 .1 2.5 0 1.4 .1 .1 .1-3.6 0 1.4 .1-.5 0 2.3 .1-1.9 .1-.2 0-.8 .1 4.1 0-1.4 .1-5.1 0 4.3 .1-.7 .1 .6 0 2.2 .1-.8 0-3 .1 2.1 .1-5.6 0 7.2 .1 .9 0-3.2 .1 1.7 0-5.4 .1 3.7 .1-2 0 4 .1-4.3 .1-1.3 .1 2.1 0-.6 .1 .7 0-1.6 .1 2.7 0-2 .1 2.3 .1-2.7 0-7.2 .1 10 .1-4.5 .1 6.4 0-.2 .1-4.6 0 3.5 .1-1.2 0 .1 .1-6 .1 6.3 0 .1 .1-.8 0-1.3 .1-.6 .1 4.2 0-4.2 .1-3.3 0 8.1 .1-5.2 0-.4 .1 1.3 .1 .7 0 4.8 .1-7.9 0 3.3 .1-.2 .1-3.2 0 7.8 .1-5 0-1.5 .1-.3 0 .2 .1-3.2 .1 3.8 0-1.6 .1 .5 0 5 .1-1.6 .1-6.4 0 5.2 .1-.5 0 2.8 .1-2.2 0 2.2 .1-1.6 .1-2.7 0 3.1 .1-.5 0-4.5 .1 2 .1-.2 0-1.1 .1 3.5 0-.4 .1 3.8 0-6.4 .1 2.1 .1-.5 0 2.5 .1-4 .1 1 .1 4.1 0-1.8 .1-1.9 0 1.9 .1-2.9 0-1.5 .1 4.1 .1-1.4 0 1.2 .1-4.1 0 .3 .1-4.2 .1 6.2 0 2.2 .1-3.2 0 1.5 .1-10.8 .1 7.2 0 3.7 .1-2.5 0 6.8 .1-7.7 0 2.2 .1 .9 .1 .6 0-4.6 .1 4.6 0-4.4 .1 4.3 .1-1.4 0-.7 .1-4.1 0 4.3 .1 0 0 .7 .1 .5 .1 .7 0-5.9 .1 .8 0 5.3 .1-2.2 .1 3.3 0-5.2 .1 .6 0 1.3 .1 2.3 0-3.9 .1 .3 .1 2 0-2.3 .1 5.1 0-1.9 .1 .9 .1-2.7 0-3.9 .1 4 0-2.7 .1 2.9 0 .9 .1-3.5 .1 1.1 0-2.2 .1 1.1 0 4.4 .1 4.3 .1-6.7 0 3.3 .1 .5 0 .2 .1-2.1 0-1.1 .1-.6 .1-5.1 0 8.1 .1-3 0 3.1 .1-.7 .1-2.7 0-.8 .1 4.2 0-6.1 .1 5.1 0-4.7 .1 2.5 .1-2.4 0 .8 .1-6 0 6.2 .1 4.5 .1-.1 0-2.4 .1-4.3 0 5.3 .1-.4 0-5.7 .1 4 .1 .1 0 2.6 .1-2.8 0-1.3 .1 1.6 .1-2.1 0 1.1 .1-1.9 0 .6 .1 2.4 0-2.6 .1-2.3 .1 3.7 0 3.8 .1-3.6 0 1 .1-7 .1 4.6 0 4.6 .1-2.3 0-4.1 .1 6.5 0-1.7 .1-1.3 .1 .4 0 1.1 .1-1.8 0 3.8 .1-2.1 .1 0 0-.7 .1-.1 0-.7 .1 .8 0 .2 .1-2 .1-1.4 0-.1 .1 5.2 0-3.5 .1-8.6 .1 9.9 0-1.9 .1 1.7 0-1.5 .1 4.7 .1-5 0 2.4 .1 .6 0-1.1 .1-3.3 0-10.7 .1 12.5 .1-1.5 0 3.1 .1 2.1 0 1.5 .1-4.6 .1 .3 0-.5 .1-.1 0-2.9 .1 5.3 0-.3 .1-6.8 .1 2.9 0 2.6 .1 4.3 0-3 .1-1.2 .1-.7 0-.7 .1 1 0-3.4 .1 5.8 0-2.3 .1 1 .1-3.7 0 1.5 .1-1.6 0 1.8 .1-9.2 .1 7.5 0 3.7 .1-1.9 0 1 .1-2.9 0-.6 .1 1.5 .1 1.3 0 1.2 .1-5.7 0 1.2 .1 10.1 .1-7.5 0 2.2 .1-1.2 0-5.1 .1 7 0-.3 .1-8.7 .1 7.3 0-.7 .1-3.4 0 4.1 .1-1.4 .1-.6 0-2.9 .1 7.5 0-1.9 .1-1.8 0-2.6 .1 3.8 .1-2.8 0 2.4 .1-.3 0-4.1 .1 3.7 .1-8 0 6.5 .1-2 0 1 .1 5.7 0-.1 .1-5.1 .1 4 0-1.4 .1-.6 0 1.5 .1-5.3 .1-8.2 0 10.7 .1-1 0 3.6 .1-4.4 0 4.3 .1-6.1 .1 5.6 0-.3 .1-4.4 0 1.3 .1 4.1 .1-4 0 1.5 .1-.1 0-1.6 .1 0 0-1 .1 1.3 .1 .4 0 1.1 .1-4.2 0 5.9 .1-7 .1-.8 .1 6.1 0-6 .1 2.5 0 .2 .1-6 .1 8.3 0-1 .1 4.9 0 2.6 .1-6.8 .1-.4 0-.8 .1 1.1 0 6.2 .1-6.5 .1-2 0-1.3 .1 6.9 0-.2 .1-.5 0-.2 .1 2.7 .1-2.6 0-6.3 .1-11.3 0 20.9 .1-4.5 .1 .7 0-3.4 .1 4 0-1.6 .1 1.8 0 .4 .1-3.8 .1 .7 0 .4 .1-1.6 0 3.8 .1-2.4 .1-.6 0-2.8 .1 8.9 0-4.5 .1-2.4 0 3 .1-2 .1-1.7 0 .6 .1 6.4 0-1.5 .1 4.8 .1-10.3 0 1.3 .1-3.4 0 3.8 .1 3.6 0-6.7 .1 7.2 .1-4 0 .6 .1-3 0-.4 .1 4 .1 .9 0-2.1 .1 1.6 0-4.6 .1 1.7 0-3 .1-3.7 .1 10.5 0-.8 .1-3.2 0 .2 .1 2.3 .1 4.1 0-12.8 .1 7.4 0 3.8 .1 3.7 0-11.4 .1 3.2 .1 1 0 3.1 .1-17.1 0 15.2 .1 6.3 .1-15.4 0 6.7 .1 2.3 0 1.8 .1-1 0-8.9 .1 6 .1 5 0-6.5 .1 1.2 0-.1 .1 1.9 .1 .2 0-1.1 .1 1.2 0 3.5 .1-1.2 0-2.9 .1 4.7 .1-4.3 0 .6 .1-3.1 0 1.7 .1 1.3 .1 0 0-2 .1-1.5 0 5.8 .1 1.3 0-2.3 .1 4.5 .1-4.3 0-4.6 .1-.4 0-1.6 .1 4.2 .1-.3 0 2.2 .1-.2 0-2.3 .1-1.7 0 1.3 .7-1-.9 2.7 1.2-5.6-.7 0 .8-4-.8-1.9 .7 .3-.6-2.5 .7 1.4-.1-.3 .2-5.4 0-.6 .1-.7 0 .5 .2-3.4-.2-.1 .4-4.1-.5 7.9 .9-3.2-.5-4.2 .8-.6-.5-.1 .2 .2-.3 .2 .8-4.4-.7 .2 .8 .6-.8-.7 1-1-.6 2.5 .7 .1-.3-1.9 .2 1.4-.3-2.1 .4 0 .3 .6 .3 4.9 .1 8.3 .1 8.3 .1 6.7"/></defs>
<use href="#c2" stroke="#1616a8" stroke-width="0.95" fill="none"/>
<use href="#c2" stroke="#0000ff" stroke-width="0.5" fill="none"/>
<path d="M30.6 162.4v-2.3M30.6 106.7v2.3M65.6 162.4v-2.3M65.6 106.7v2.3M100.6 162.4v-2.3M100.6 106.7v2.3M135.6 162.4v-2.3M135.6 106.7v2.3M170.6 162.4v-2.3M170.6 106.7v2.3M205.6 162.4v-2.3M205.6 106.7v2.3M30.6 158.12h2.3M205.6 158.12h-2.3M30.6 136.69h2.3M205.6 136.69h-2.3M30.6 115.27h2.3M205.6 115.27h-2.3" stroke="#505050" stroke-width="0.8" fill="none"/>
<rect x="30.6" y="106.7" width="175" height="55.7" stroke="#868686" stroke-width="1.2" fill="none"/>
<defs><path id="c3" d="M30.6 115.3l144.6 0 .3 4.3 .3 6 .9 3.4 .5-2.6 .6 4.3 .5-2.1 .5 3 .6-1.8 .5 2.6 .5-1.3 .5 2.2 .4-.9 .1 2.2 .2 2.9 .2 2.6 .2-2.1 .2 3 .1-1.3 .2 5.6 .1 12.4"/></defs>
<use href="#c3" stroke="#1616a8" stroke-width="0.95" fill="none"/>
<use href="#c3" stroke="#0000ff" stroke-width="0.5" fill="none"/>
<path d="M261.5 162.4v-2.3M261.5 106.7v2.3M296.6 162.4v-2.3M296.6 106.7v2.3M331.7 162.4v-2.3M331.7 106.7v2.3M366.8 162.4v-2.3M366.8 106.7v2.3M401.9 162.4v-2.3M401.9 106.7v2.3M437 162.4v-2.3M437 106.7v2.3M261.5 162.4h2.3M437 162.4h-2.3M261.5 134.55h2.3M437 134.55h-2.3M261.5 106.7h2.3M437 106.7h-2.3" stroke="#505050" stroke-width="0.8" fill="none"/>
<rect x="261.5" y="106.7" width="175.5" height="55.7" stroke="#868686" stroke-width="1.2" fill="none"/>
<defs><path id="c4" d="M261.5 148.2l.2-5.8 .2 4.9 .1 1.8 .2 1.2 .2 .1 .2 2.7 .1-1.6 .2 2.1 .2-1.4 .2 4 .1-5.9 .2 3.5 .2-2.5 .2 4.6 .1 .1 .2-2.2 .2 .7 .2 .1 .1-1 .2 1 .2-1.7 .2 3.6 .1-2.7 .2 7.8 .2-6.3 .2 .5 .1 .1 .2-1.2 .2-.7 .2-1 .1 2.8 .2-1.6 .2-2.4 .2 2 .1-.2 .2-2.1 .2 1.1 .2 2 .1 .7 .2-2.7 .2-.7 .2-.1 .1 .4 .2 1.8 .2 1.4 .2-1.4 .1-.6 .2 1.3 .2-1.5 .2-5.7 .2 8.2 .1-2 .2-1.5 .2 3.9 .2-1 .1 .1 .2-1.3 .2-1.9 .2 .6 .1 4.1 .2-2.6 .2 1.5 .2-3.4 .1 3 .2-3.6 .2-2.4 .2 4.4 .1-1.3 .2-.8 .2 3.3 .2 2.2 .1-4.1 .2 .7 .2 5.1 .2-3.5 .1 1.5 .2 .3 .2-8.6 .2 11.7 .1-1.3 .2-4.5 .2 1.7 .2 2.3 .1-1 .2-.7 .2 .7 .2-5.9 .1 6.5 .2-2.4 .2 3.6 .2-4.1 .1-2.3 .2 4.1 .2 .8 .2 1.6 .1-5.8 .2 3.9 .2-3 .2-.8 .1 3.3 .2-2.7 .2-2.7 .2 4.9 .2-1.2 .1-.8 .2 3.8 .2-2.6 .2-3.8 .1-2.8 .2 7.2 .2-2.5 .2-.3 .1 1.3 .2 .1 .2-1 .2 .2 .1 .9 .2-1.2 .2-.6 .2 5.1 .1-5.5 .2 .9 .2-.6 .2 4.5 .1-8.5 .2 2 .2 6.5 .2-5.9 .1 .5 .2 .7 .2-1.9 .2 2 .1 3.7 .2-1.1 .2-3.3 .2-3.1 .1 4.4 .2-3.8 .2 2.6 .2 2 .1-3.7 .2 5.2 .2-8.8 .2 11.7 .1-4 .2-2.2 .2 6.1 .2 1.2 .1-18.5 .2 13.9 .2 3.4 .2-1.8 .2-5 .1 7.2 .2-5.6 .2 1.3 .2 .6 .1 1.2 .2-2 .2 .4 .2 1.3 .1-3.4 .2 3.5 .2-.5 .2-10.6 .1 14.8 .2 1.3 .2-8.1 .2 2 .1-.5 .2 1.2 .2-.5 .2-2.9 .1 2.5 .2 1.3 .2 .3 .2 1.1 .1 2.5 .2-5 .2 .3 .2-6.7 .1 7.6 .2 1.5 .2-7.8 .2 6.2 .1-.6 .2-3.3 .2-1.2 .2 1.8 .1 .7 .2 4.3 .2-.2 .2-.4 .1-3.7 .2 1.8 .2-2.6 .2 2 .1-.7 .2 5.6 .2-5.9 .2 2.6 .2-4.8 .1 1.8 .2-3.2 .2 .1 .2 2.8 .1 1 .2-4.1 .2-.8 .2 5.3 .1-5.2 .2 1.6 .2 5.3 .2-4 .1 5.4 .2-12.4 .2 6.7 .2 2.6 .1 2 .2 3.8 .2-5.8 .2-1.8 .1 1.3 .2 3.6 .2-12.3 .2 8.9 .1 3.8 .2-.1 .2-.6 .2-5 .1 3.9 .2-5.5 .2 .4 .2 7 .1-3 .2-8.4 .2 7.3 .2-1.4 .1 1.1 .2 2.1 .2-5.9 .2 3.7 .1-.2 .2-10.5 .2 9.4 .2 4.4 .1-.8 .2-3.9 .2 2.3 .2 4.8 .2-2.4 .1-8.2 .2 6.7 .2-1.8 .2 .4 .1 .2 .2 3.7 .2-1.8 .2-5.8 .1 6.5 .2-2 .2-3.6 .2 1.2 .1 2.7 .2 2.1 .2-.4 .2-3.8 .1 .1 .2 1.5 .2 2 .2-4.6 .1-.9 .2 3.2 .2 2.2 .2-13.4 .1 5.4 .2-1.3 .2 7.1 .2-2.9 .1 4.1 .2-1.1 .2-6.8 .2 3.4 .1 .2 .2 3.1 .2 1.7 .2-1.2 .1-3.2 .2 1.7 .2-.9 .2-.7 .1 3.1 .2-2.4 .2 2.5 .2 .2 .1-9.2 .2 9.1 .2-6.9 .2 2.6 .2 3.9 .1-1.2 .2 1.6 .2-4 .2 1.5 .1 1.3 .2-2.9 .2 3.3 .2 1.2 .1-15.9 .2 19.3 .2-3.9 .2-.7 .1 2.2 .2-.5 .2 .8 .2-3.8 .1 3.9 .2-2.8 .2 3 .2 2.4 .1 1.2 .2-1.4 .2-2.5 .2 2.7 .1-5.2 .2 3.8 .2 3.3 .2-4.6 .1 2 .2-5.2 .2 3.5 .2 2.8 .1-2.3 .2 3.7 .2-.6 .2-3.6 .1-1.2 .2 2.2 .2-3.6 .2 7.2 .1-6.6 .2 .3 .2 4.2 .2-4 .1 1 .2-3.4 .2 6.4 .2-5.4 .1 2.4 .2-4.4 .2-2.4 .2 6.7 .2 0 .1-.5 .2-.4 .2-3 .2 4.5 .1 .3 .2-.8 .2 .5 .2-3.4 .1 5.2 .2 0 .2-2.7 .2 .1 .1 3.9 .2-1.6 .2 2.4 .2-5.4 .1 4.4 .2-.7 .2-.6 .2 .9 .1-2.7 .2-2.3 .2 1.7 .2-4.6 .1 5.1 .2 4.8 .2-3.8 .2 1.4 .1-3.9 .2 2.2 .2-1.2 .2 4.5 .1-1.1 .2-2.2 .2 .9 .2-.2 .1-3.4 .2 6.7 .2 .2 .2-11 .1 7.2 .2-9.1 .2 8.9 .2-1.5 .1 3 .2-3.7 .2 2.2 .2-4.3 .2 7.7 .1-9.9 .2 3.6 .2-2.4 .2 4.4 .1-2.4 .2-1.8 .2 2.4 .2 1.8 .1 .6 .2 .8 .2-2.7 .2 4.7 .1-3.6 .2 2.5 .2 .1 .2 .8 .1 0 .2 1.9 .2-5.1 .2 2.2 .1-3.1 .2 3.9 .2-.3 .2-2.3 .1 .5 .2 1.3 .2 2.1 .2-2.8 .1-.9 .2-3.4 .2 .4 .2 4.7 .1-4.2 .2 3.8 .2-.5 .2-.2 .1 .9 .2-4 .2-1.7 .2 6 .1-3 .2 1.3 .2-.5 .2 1.5 .1-4.8 .2 1.8 .2 .5 .2-4.1 .2 7.5 .1-1 .2-2 .2-.8 .2 1.5 .1-1.5 .2-1.9 .2 4.4 .2 .3 .1-.7 .2 4.2 .2-6.5 .2-.8 .1-3.5 .2 7.9 .2-3.4 .2-11.3 .1 11.3 .2 4.1 .2 2.2 .2-4.9 .1 .2 .2 .3 .2 2.6 .2 .9 .1-1.4 .2 1.5 .2 .1 .2-3.5 .1-.9 .2 3.7 .2 1.2 .2-1.6 .1-4.3 .2 2.2 .2-2.1 .2-1 .1-.8 .2 4.4 .2-6.7 .2 4.4 .1 3.3 .2 1.4 .2-4.4 .2-.8 .1 5.1 .2-3.2 .2 .9 .2 1.1 .1 .9 .2 .9 .2 .5 .2-4.8 .2 2.3 .1-1.2 .2 3.7 .2-5 .2-.2 .1-10.2 .2 8.1 .2 3.8 .2 .4 .1 1.9 .2-1.1 .2-2.9 .2-.1 .1-2.1 .2 4.9 .2-2.8 .2 3.8 .1-2.7 .2 .8 .2 3.4 .2-6.5 .1-9.4 .2 14.5 .2-2.1 .2 3.5 .3 0 .2-3.5 .2-.6 .1 3.4 .2-3.7 .2-.3 .2 1.4 .1 2.5 .2-2.5 .2-.1 .2 .7 .1-2.4 .2 1.9 .2 3.2 .2-1.6 .1-1.5 .2 3.1 .2 0 .2-3.1 .1-1.5 .2 3.4 .2-3.4 .2 3.7 .2 .9 .1-5.3 .2 1.7 .2 3.6 .2 0 .1-3.3 .2 2.1 .2-13 .2 14.2 .1-2.1 .2-5.8 .2 7.9 .2-6.9 .1 6.2 .2 .7 .2-4.8 .2-4.5 .1 6.6 .2-2.9 .2-1.9 .2 3.4 .1 3.9 .2-.5 .2-2 .2-2.9 .1 .8 .2 .4 .2-4.5 .2 8.9 .1-5.9 .2 1.6 .2-.4 .2-.7 .1 1 .2 2.3 .2 2.1 .2-12.2 .1 11.2 .2-2.3 .2 3.3 .2-2.9 .1-1.2 .2 1.9 .2-1.6 .2 2.6 .1-1.1 .2-1.3 .2 .1 .2-1.6 .2 1.3 .1-2.7 .2-1.4 .2 1.5 .2-1.1 .1 1.6 .2-10.6 .2 10 .2 0 .1 3.9 .2-2 .2 3.6 .2-4.2 .1-2.6 .2 3.3 .2 3.1 .2-3.6 .1 1.2 .2 .8 .2-1.5 .2 3.2 .1-2.7 .2 4 .2-2.4 .2-3.4 .1 2.6 .2 2.1 .2 1.1 .2-5.4 .1 4.5 .2 .9 .2-5.2 .2-3 .1-1 .2 .2 .2 8.4 .2-4 .1 2.6 .2-11.7 .2 13.7 .2-5.5 .1-5.3 .2 3.3 .2 .7 .2 3.2 .1 3.6 .2-4.5 .2 1.8 .2-1.8 .2-3.1 .1 6.6 .2-3.7 .2 2.8 .2-2.7 .1-.4 .2 .3 .2-.7 .2 2.8 .1-.9 .2-1 .2-.4 .2 1 .1 2.2 .2-1.8 .2-1.6 .2 3.3 .1-.1 .2-11.4 .2 3.2 .2 4.7 .1 3.3 .2-11.4 .2 8 .2 3.9 .1-2.9 .2 .3 .2-1.7 .2 4.7 .1-20.8 .2 19.6 .2-2.2 .2 3.5 .1-5.4 .2 2.1 .2 2.7 .2-2.7 .1-1.2 .2-1.2 .2 .8 .2 6 .1-1.1 .2-2.4 .2-.5 .2 3.6 .1-5.8 .2 2 .2 4.2 .2-1.5 .2-5.2 .1 6.7 .2-8.8 .2-.1 .2 6.6 .1 0 .2-.3 .2 1.7 .2-2.4 .1 2.7 .2 .2 .2-.5 .2-.5 .1-2.3 .2-9.4 .2 8.9 .2 1.6 .1-.8 .2 .4 .2 1.3 .2-.5 .1-.8 .2 0 .2-1.6 .2 2.8 .1 .4 .2-.1 .2 0 .2-1.1 .1-.6 .2-1.6 .2 1.8 .2 .7 .1-.8 .2-2 .2-2.5 .2 5.4 .1-1.4 .2-.3 .2-.1 .2 .1 .1-.4 .2-.9 .2 0 .2 .7 .1 .6 .2 1.2 .2-.2 .2 .7 .1-.8 .2-.8 .2-.7 .2 2 .2-2.6 .1 1.5 .2 1.6 .2-2.2 .2 1.2 .1-8.5 .2 7.6 .2 1 .2-1.2 .1-.2 .2-.9 .2 2 .2 .2 .1-3.8 .2 3.2 .2-2 .2 1.4 .1 .2 .2-2.6 .2 1.3 .2 1.2 .1-.2 .2-4.4 .2 4.2 .2-.7 .1 .8 .2-.2 .2-.4 .2 .4 .1 1.1 .2-1.5 .2 1.1 .2-.7 .1 .1 .2 .5 .2-3 .2 3.4 .1-6.7 .2 6.4 .2-.8 .2-1.4 .1 .8 .2-.2 .2-1.8 .2 1.2 .1-.6 .2 1 .2 .1 .2 0 .2-1.6 .1 4.7 .2-3.6 .2-3.1 .2 5.2 .1-2 .2 .4 .2 .7 .2-1.2 .1 1.3 .2-2.6 .2 2.7 .2-.1 .1-.8 .2-.5 .2-.7 .2 .3 .1 .2 .2 2.7 .2-2.2 .2-.4 .1-1.1 .2 2 .2-1.5 .3-20.2 .1-22.3 .3-3.9 .5-1.1 1.1-.6 1.2 .6 1.2-.6 1.1 .6 .5 1.1 .5 2.8 .6 4.4 .3 5 .4 6.2 .3 4.4 .2 1.7"/></defs>
<use href="#c4" stroke="#1616a8" stroke-width="0.95" fill="none"/>
<use href="#c4" stroke="#0000ff" stroke-width="0.5" fill="none"/>
<path d="M30.6 258.7v-2.3M30.6 203.6v2.3M74.35 258.7v-2.3M74.35 203.6v2.3M118.1 258.7v-2.3M118.1 203.6v2.3M161.85 258.7v-2.3M161.85 203.6v2.3M205.6 258.7v-2.3M205.6 203.6v2.3M30.6 258.7h2.3M205.6 258.7h-2.3M30.6 235.74h2.3M205.6 235.74h-2.3M30.6 212.78h2.3M205.6 212.78h-2.3" stroke="#505050" stroke-width="0.8" fill="none"/>
<rect x="30.6" y="203.6" width="175" height="55.1" stroke="#868686" stroke-width="1.2" fill="none"/>
<defs><path id="c5" d="M30.6 212.4l.1 .1 .1-.2 .1 .1 .1 0 0-.1 .1 .2 .1 0 .1 .1 .1 .1 .1 0 .1-.2 0-.1 .1 .4 .1-.4 .1 0 .1 .2 .1-.2 .1 .2 .1-.2 .1 .1 0 .1 .1-.1 .1 .2 .1-.3 .1-.1 .1 .3 .1 0 .1-.3 0 .1 .1-.1 .1 .3 .1-.1 .1-.1 .1 .1 .1 .2 .1 .1 0-.4 .1 .7 .1-.6 .1 .1 .1-.3 .1 .1 .1 .2 0-.2 .1 .2 .1-.1 .1 .1 .1 0 .1-.3 .1 .2 .1-.1 .1 .3 0-.1 .1 0 .1-.2 .1 .1 .1 .4 .1-.4 .1 .2 0-.3 .1 .1 .1-.1 .2 0 .1 .1 .1 .1 .1 .1 .1-.3 0 .1 .1 0 .1 .1 .1-.2 .1 0 .1 .4 .1-.3 0 .1 .1-.2 .1 .4 .1-.2 .1 .1 .1-.2 .1-.1 .1 0 .1 .1 0 .1 .1-.3 .1 .1 .1 .1 .1-.1 .1-.1 .1 0 .1 .2 .2 0 .1-.1 .1 .2 .1-.2 .1 .5 .1-.4 0-.1 .1 .1 .1 0 .1 .1 .1-.2 .1 .1 .1 .1 0-.1 .1 .3 .1-.4 .1 .1 .1-.1 .2 0 .1 .2 .1-.2 0-.1 .1 .2 .1-.2 .1 .3 .1 .1 .1 0 .1-.3 0 .3 .1 .2 .1-.2 .1-.2 .1 .2 .1 .1 .1-.2 .1-.1 .1 .4 0-.2 .1-.2 .1-.1 .1 .1 .1 .1 .1-.2 .1 .1 0-.1 .1 0 .1 .1 .1-.1 .2 0 .1 .3 .1-.2 .1 .1 0-.1 .1 .2 .1 .1 .1-.4 .1-.1 .1 .4 .1-.2 0 .3 .1-.4 .1 .3 .1-.1 .1 .2 .1-.3 .1-.1 .1 .3 .1 .3 0-.3 .1-.2 .1-.1 .1 .3 .1-.1 .1-.1 .1 .2 .1-.2 0-.1 .1 .1 .1-.1 .1 .1 .1 .1 .2 0 .1 .2 0-.1 .1 .1 .1-.1 .1 .1 .1-.1 .2 0 0-.4 .1 .3 .1 .3 .1-.3 .1 .1 .1-.2 .1 0 .1-.1 .2 0 .1 .1 .1 .1 .1-.2 .1 .2 .1-.1 0 .3 .1-.3 .1-.1 .1 .1 .2 0 .1 .3 .1 .1 .1-.4 0 .2 .1-.3 .1 .1 .1 .2 .1-.3 .1 .2 .1-.1 .1 .1 .1 .5 .1-.7 .1 .7 .1-.7 .1 0 .1 .2 .1-.2 .1 .2 .1 .1 .1-.3 .1 0 .1 .2 .1 .1 0-.3 .1 0 .1 .1 .1 0 .1-.1 .1 0 .1 .2 .1 0 .1 .1 0-.2 .1 0 .1 .1 .1-.1 .1 0 .1 .3 .1-.2 0-.2 .1 0 .1 .1 .1 .5 .1-.5 .1 .1 .1-.2 .1 .8 .1-.6 0-.2 .1 0 .1 .1 .1 .2 .1-.2 .1-.1 .1 .1 .1-.1 .2 0 .1 .9 .1-.8 .1-.1 .1 0 .1 .2 0 .2 .1-.1 .1-.2 .1 .1 .1 0 .1-.2 .1 .1 .1 .2 .1 0 .1-.3 .1 .4 .1-.3 .1 0 .1-.1 .1 .5 0-.5 .1 .3 .1-.2 .1 .4 .1-.3 .1-.1 .1 0 0-.1 .1 0 .1 .1 .1 .3 .1-.3 .1 .1 .1 .2 .1-.4 .1 .3 0-.1 .1-.2 .1 .2 .1-.2 .2 0 .1 .4 0-.2 .1-.2 .1 .1 .1 0 .1 .2 .1-.3 .1 .6 .1-.4 .1-.1 0 .4 .1-.5 .1 .7 .1-.5 .1-.2 .1 .1 .1 .2 0 .1 .1-.3 .1-.1 .1 .2 .1-.2 .1 .2 .1 .2 .1-.1 .1-.3 0 .2 .1-.1 .1-.1 .1 .1 .1 .2 .1 .2 .1-.1 0-.2 .2 0 .1 .1 .1-.2 .1-.1 .1 .5 .1-.4 .1 .1 0-.1 .1-.1 .1 .4 .1 .2 .1-.6 .2 0 0 .3 .1-.1 .1-.1 .1 .1 .1 .2 .1-.2 .1-.1 .1-.1 .1 .3 0 .4 .1-.4 .1 0 .1-.1 .1-.1 .1-.1 .1 .2 0 .1 .1-.1 .1-.2 .1 .2 .1 .3 .1-.3 .1-.1 .1 .2 .1-.2 0-.1 .2 0 .1 .5 .1-.3 .1-.2 .1 .1 .1 .2 .1-.2 .1-.1 .1 .3 .1-.2 .1 .4 .1 .2 .1-.7 0 .1 .1 0 .1 .2 .1-.1 .1 .2 .1-.4 .1 0 0 .2 .1 .2 .1-.2 .3 0 .1-.2 .1 .1 .1 .1 0-.1 .1 0 .1 .1 .1 .1 .1-.1 .1 .3 .1-.4 .1 0 0 .1 .1 .1 .1-.1 .1-.1 .1 .3 .1-.4 .1 .3 .1-.2 0 .3 .1 0 .1-.1 .1-.3 .1 .2 .1-.1 .1 .1 0 .1 .1 0 .1-.1 .1 .4 .1-.5 .1 .2 .1-.1 .1 .5 .1-.5 0 .1 .1 .1 .1-.1 .1 0 .1-.2 .1 .2 .1 0 0-.3 .1 .5 .1-.1 .1-.4 .1 0 .1 1 .1-.7 .1-.2 .1-.1 .1 .4 .1-.2 .1-.2 .1 0 .1 .4 .1-.1 0-.3 .1 0 .1 .1 .1 0 .1 .1 .1 0 .1 .1 .1 .2 .1-.5 0 .1 .1 .6 .1-.4 .1-.2 .1-.1 .1 .3 .1-.2 0 .1 .1-.1 .1 .2 .1-.1 .1-.2 .1 .2 .1-.2 .1 .7 .1-.6 .1-.1 .1 .3 .1-.2 .1 .1 .1 0 .1-.1 .1 .1 0 .1 .1 .3 .1-.3 .1 0 .1-.3 .1 .1 .2 0 0 .1 .1 .1 .1-.2 .1-.1 .1 .8 .1-.4 .1-.4 0 .1 .1 .2 .1-.2 .1 .3 .1-.1 .1-.1 .1-.2 .1 0 .1 .2 .1-.1 .1 .1 .1 .2 .1-.3 .1 .1 .1 .2 0-.4 .1 .3 .1-.3 .1 0 .1 .4 .1-.2 .1 .1 .1 .1 .1-.4 0 .4 .1-.2 .1 .4 .1-.6 .1 .1 .1 .3 .1-.4 0 .1 .1 .4 .1-.5 .1 .1 .1 0 .1-.1 .1 .1 .1-.1 .1 .2 0 .2 .1-.2 .1 .1 .1 0 .1 .1 .1-.1 .1 0 0-.2 .1-.1 .1 .1 .1 .6 .1-.6 .1 .1 .1-.2 .1 .3 .1 .2 0-.3 .1-.1 .1 0 .1 .3 .1-.3 .1 .4 .1-.3 .1 0 .1-.2 .1 .3 .1 .2 .1-.4 .1 0 .1 .6 .1-.6 .1 .3 .1-.3 .1 0 .1-.1 .1 .3 .1 .2 0-.2 .1-.3 .1 .1 .1 .4 .1-.5 .1 .2 .1-.2 .1 .1 .1 0 0 .2 .1-.1 .1 .1 .1-.3 .1 .1 .1-.1 .1 .3 0-.3 .1 .4 .1-.3 .1 .2 .1 .4 .1-.7 .1 .5 .1-.2 .1-.1 .1 .1 .1 0 .1-.2 .1 .1 .1-.2 .1 .1 0 .2 .1-.2 .1 .6 .1-.5 .2 0 .1-.1 .2 0 .1 .4 .1-.2 .1-.2 .1 .3 .1 0 .1 .1 0-.1 .1-.4 .1 .4 .1-.4 .1 .1 .1-.1 .1 .6 .1-.3 .1-.2 0-.1 .1 .3 .1 0 .1 .8 .1-1.1 .1 .1 .1 .1 .1 .1 0-.2 .1 .4 .1-.1 .1 .3 .1-.5 .3 0 0-.2 .1 .2 .3 0 .1 .2 .1 0 0-.3 .1 .2 .1-.1 .1-.2 .1 .1 .1 .7 .1-.5 .1-.2 .1 0 .1-.1 .1 0 .1 .7 .1-.4 .1-.3 .1 .1 0 .1 .1-.1 .1-.1 .1 .2 .1 .4 .1-.5 .1 0 .1 .4 .1 0 0-.1 .1 0 .1 .2 .1-.4 .1-.1 .1 .1 .1 .3 0-.2 .1 0 .1 .1 .1 .1 .1-.1 .1-.4 .1 .2 .1 0 .1 .3 0-.4 .1 0 .1 .3 .1-.3 .1 .3 .1-.4 .1 .2 0-.1 .1 0 .1 .3 .1-.3 .1 .2 .1-.2 .1 .1 .1 .1 .1-.2 0 .2 .1-.2 .1 .3 .1-.2 .1 .1 .1-.2 .1 0 .1-.1 0 .6 .1 .2 .1-.4 .1-.1 .1-.1 .1-.1 .1 .2 .1 0 .1-.1 .1 .1 .1-.1 .1 .2 .1-.2 .2 0 .1 .3 .1-.4 .1 0 .1 .1 .1 0 .1-.2 .1 0 0 .5 .1-.3 .1-.2 .1 .3 .1-.3 .1 .3 .1 0 0 .1 .1-.2 .1 .2 .1 .1 .1-.3 .1 .1 .1-.1 .1 0 .1-.2 0 .6 .1 0 .1-.3 .1-.3 .1 .2 .1 .1 .1 .1 .1-.2 .1 .3 .1-.3 .1 .2 .1-.4 .1 .4 .1-.2 0-.2 .1 0 .1 .5 .1 .1 .1-.2 .1-.4 .1 .5 .1-.4 0 .3 .1-.3 .1 .1 .1 .1 .1-.1 .1 0 .1 .1 .1-.2 .1 0 0 .1 .1 0 .1 .6 .1-.4 .1-.1 .1 0 .1 .3 0-.3 .1 .1 .1-.2 .1 .1 .1 .2 .1-.4 .1 .4 .1-.2 .1-.3 0 .1 .1 0 .1 .3 .1-.3 .1 .2 .1 0 .1 .2 0-.4 .1 .3 .1-.1 .1-.2 .1 .3 .1-.2 .1 .3 .1 .4 .1 0 0-.9 .1 .3 .1 .3 .1-.4 .1 0 .1 .2 .1-.4 0 .3 .1-.1 .1 .2 .1-.2 .1 .1 .1 .1 .1-.4 .1 .2 .1 .3 .1 0 .1-.2 .1-.2 .1 .2 .1-.2 .1 .2 .1-.1 .1-.1 .4 0 .1 .3 .1 .2 0-.3 .1-.1 .1 0 .1-.1 .1 .1 .1 .1 .1 0 0-.1 .1 .1 .1 0 .1-.2 .1 .3 .1 0 .1-.2 .1 0 .1 .2 0-.2 .1 .1 .1 .2 .1-.1 .1-.1 .1-.1 .1 .1 .1 .3 .1-.3 .1 0 .1-.2 .1 .5 .1-.5 .1 .1 .1 .3 0-.4 .1 0 .1 .2 .1-.1 .1-.1 .1 .1 .1-.1 0 .5 .1-.6 .1 .3 .1 0 .1-.1 .1-.2 .1 .2 .1 0 .1 .2 0-.3 .1 .2 .1-.2 .1 .2 .1-.2 .1 0 .1-.1 0 .1 .1 .3 .1-.3 .1 .3 .1 0 .1 .2 .1-.3 .1 .1 .1 .9 0-1.2 .1-.1 .1 .7 .1-.6 .1 .1 .1 .2 .1-.1 0-.2 .1 .1 .1 .1 .1-.3 .1 .2 .1 .1 .1-.1 .1 0 .1 .2 0-.2 .1 0 .1-.1 .1 .3 .1 0 .1 .1 .1-.2 0-.1 .1-.1 .1 .3 .1-.2 .1 0 .1-.1 .1 .2 .1-.2 .1 .6 0-.4 .1-.1 .1 .4 .1-.1 .1-.1 .1-.3 .1 .4 0-.4 .1 .3 .1-.2 .1-.1 .1 .3 .1-.1 .1-.1 .1 .3 .1-.2 0 .1 .1-.1 .1 0 .1-.2 .1 .1 .1 0 .1-.2 0 .4 .1-.1 .1 .7 .1-.7 .1 .1 .1 .1 .1-.3 .1 .1 .1 .1 .1-.2 .1 0 .1 .4 .1-.4 .1-.1 .1 0 0-.1 .1 .1 .1 .2 .1 .4 .1-.3 .1-.2 .1 .3 .1-.4 .1 .1 0-.1 .1 .4 .1-.4 .1 .3 .1-.1 .1-.1 .1 .2 0-.3 .1 .1 .1-.1 .1 .3 .1-.3 .1 0 .1 .4 .1-.4 .1 0 0 .4 .1 0 .1 .1 .1-.6 .1 .2 .1-.1 .1 .1 .1 .6 .1-.7 .1 .3 .1-.1 .1 0 .1 .1 .1-.2 .1 .2 0 .2 .1-.4 .1 .3 .1-.1 .1-.3 .1 0 .1 .3 0-.4 .1 .1 .1 .2 .1 .3 .1-.4 .1 .2 .1 .8 .1-1 .1 .2 .1-.2 .1 .1 .1-.2 .1 .1 .1 .2 .1 0 0-.1 .1-.2 .1 0 .1 .2 .1-.2 .1 0 .1 .2 .1 .2 .1 0 0 .3 .1-.8 .1 .2 .1 .2 .1-.2 .1 .5 .1-.6 0 .5 .1 .3 .1-.7 .1 0 .1 .4 .1-.3 .1 .1 .1-.3 .1 0 0 .4 .1-.3 .1 .2 .1-.2 .1 0 .1 .2 .1-.2 0 .2 .1-.3 .1 .3 .1-.2 .2 0 .1-.2 .1 .2 .1 .3 0-.2 .1 .4 .1-.5 .2 0 .1-.1 .1 .4 0-.3 .1 .3 .1-.4 .1 .4 .1-.2 .1 .3 .1-.3 .1-.1 .1 0 0-.1 .1 0 .1 .2 .1-.1 .1 0 .1 .4 .1-.4 0 .3 .1-.3 .1 .2 .1-.3 .1 .1 .1 0 .1 .5 .1-.6 .1 .4 0 .1 .1-.2 .1 0 .1-.1 .1 0 .1 .2 .1-.4 0 .3 .1 .5 .1-.6 .1-.2 .1 .1 .1 0 .1 .4 .1-.5 .1 .5 .1-.1 .1 0 .1-.4 .1 .2 .1-.2 .1 .4 0-.3 .1 0 .1 .2 .1 .1 .1-.3 .1 .1 .1-.2 .1 .6 .1-.1 0-.2 .1-.3 .1 0 .1 .3 .1-.2 .1 .1 .1 0 0 .1 .1-.2 .1 0 .1 .6 .1-.7 .1 .3 .1-.3 .1 0 .1 .1 0 .1 .1 0 .1-.1 .1 0 .1 .2 .1-.2 .1 .1 0 .1 .1-.2 .1 .1 .1 0 .1-.1 .1 .6 .1-.3 .1 .3 .1-.4 0-.2 .1-.1 .1 .2 .1 .3 .1-.4 .1 .4 .1-.5 0 .3 .1 0 .1-.2 .1 .4 .1-.5 .1 .3 .1 0 .1 .1 .1-.1 0-.2 .1-.1 .1 .1 .1 0 .1 .7 .1-.6 .1-.2 0 .5 .1-.3 .1 .4 .1-.5 .1 .1 .1 .2 .1 .1 .1-.5 .1 .1 0 .2 .1-.1 .1 0 .1 .1 .1-.3 .1 .3 .1-.2 0 .1 .1-.2 .1 .1 .1 0 .1 .2 .1-.2 .1 .2 .1-.1 .1 .2 0-.3 .1 0 .1-.1 .1 .3 .1-.1 .1 .1 .1 0 0-.2 .1 .6 .1-.4 .1-.1 .1-.1 .1 0 .1 .3 .1-.3 .2 0 .1-.1 .1 .1 .1 .1 .1 .1 .1-.1 0-.2 .1 .4 .1 0 .1 .1 .1-.3 .1-.2 .1 0 .1 .1 .1 0 .1 .2 .1-.3 .1 .5 .1-.3 .1-.1 .1 .7 0-.8 .1 .1 .1 .1 .1 0 .1-.2 .1 .5 .1 0 .1-.4 .1 .7 0-.4 .1-.3 .1 0 .1-.1 .1 .6 .1 .1 .1-.6 0 .5 .1-.1 .1 0 .1-.5 .1 .8 .1-.2 .1-.2 .2 0 0-.1 .1-.1 .1 .2 .1-.3 .1 .8 .1-.7 .1 0 0 .1 .1-.2 .1 .6 .1-.6 .1 .2 .1 .5 .1-.5 .1 .3 .1-.2 .1 .1 .1-.3 .1 .8 .1-.8 .1 .8 .1-.7 0 .2 .1 0 .1 .1 .1-.1 .1 .8 .1-.9 .1 .8 .1-.2 .1-.6 0-.1 .1 .9 .1-.9 .1 .4 .1 .1 .1-.4 .1 .4 0-.3 .1 0 .1-.1 .1 .3 .1 .2 .1-.4 .1 .1 .1-.4 .1 1.3 0-1.1 .1 0 .1 .3 .1 .9 .1-.1 .1-1.3 .1 .7 0 .5 .1-.6 .1 .3 .1-.3 .1-.6 .1 .3 .1 .1 .1 .3 .1-.3 0 .1 .1 .5 .1-.7 .1 .1 .1 .6 .1-.7 .1 0 0-.1 .1 .2 .1 1.4 .1-1.6 .1 .5 .1-.4 .1 .1 .1 .3 .1-.2 0-.2 .1-.1 .1 .5 .1 .1 .1-.4 .1 .5 .1-.5 0-.2 .1 .2 .1-.3 .1 .9 .1-.8 .1 1.2 .1-.9 .1 .4 .1-.7 .1 .6 .1 .1 .1-.4 .1-.2 .1 .4 .1 .1 0 .5 .1-.8 .1 .1 .1 .1 .1-.3 .1 0 .1 .9 .1-.7 .1 0 0-.2 .1 .9 .1-.6 .1 1 .1-.4 .1-.4 .1-.1 0 .7 .1-1.3 .1 .5 .1 1.5 .1-.8 .1 .7 .1-1.7 .1 1.3 .1-1.3 0 .3 .1-.1 .1-.1 .1-.2 .1 .4 .1-.5 .1 1.1 0-1.1 .1 .7 .1-.3 .1-.1 .1 .7 .1-.8 .1 .3 .1-.1 .1 .3 0-.6 .1 1 .1 .9 .1-1.7 .1 .7 .1 1.1 .1-.7 0 .1 .1-1.2 .1 .5 .1-.6 .1 .4 .1 .3 .1-.4 .1 .2 .1 .2 0 .1 .1-.4 .1 2.4 .1-1.6 .1-.7 .1-.4 .1 .7 0-.4 .1 .8 .1-.3 .1-.1 .1 1.1 .1-1.6 .1 .9 .1-1.1 0 .3 .1 .3 .1-.2 .1 2.6 .1-2.3 .1-.1 .1 0 .1-.1 0-.1 .1-.4 .1 1.6 .1-1 .1 .8 .1-1.1 .1 .2 .1 1.1 .1-1.6 0 .1 .1 .2 .1-.2 .1 .8 .1-.8 .1 1.2 .1-.6 0-.6 .1 .3 .1 .4 .1-.7 .1 .6 .1 1.3 .1-1.3 .1-.4 .1 .4 0 .1 .1-.5 .1 1.2 .1 .7 .1-2 .1 .4 .1 0 0 .4 .1-.5 .1 .3 .1-.3 .1 .3 .1 .6 .1-.6 .1 1.3 .1-1.4 0-.3 .1 .3 .1 0 .1 .7 .1-.7 .1-.1 .1 1.5 0 .2 .1-.5 .1-.1 .1-1.3 .1 .7 .1-.7 .1 .1 .1 .7 .1 .8 0-1.4 .1 2.9 .1-2.4 .1 0 .1 .2 .1 .6 .1-.4 0-1 .1 .5 .1-.3 .1 .2 .1 .3 .1-.6 .1 .2 .1 .1 .1 .6 .1-.5 .1 1 .1 1.9 .1-3.4 .1 .8 .1 1.6 0-.6 .1 .5 .1-2.1 .1-.1 .1 1.7 .1 0 .1-.7 .1-.2 .1-.3 0-.4 .1 2 .1-1 .1 1.2 .1-.6 .1-1 .1-.2 0-.5 .1 .8 .1 1 .1-1.2 .1 .5 .1-.7 .1 .4 .1 .3 .1-.1 0-.7 .1 1.1 .1-.4 .1-.7 .1 3.3 .1-1.4 .1-2 0 1.4 .1-1.2 .1 2.4 .1-1.4 .1 .1 .1-.1 .1-1.1 .1 .5 .1-.1 0 .4 .1 .5 .1 .5 .1 .1 .1-1.1 .1-.2 .1 1.5 0 1 .1-2.8 .1 1.3 .1 .3 .1-1 .1-.8 .1 .7 .1 .3 .1-.7 0 .5 .1 .4 .1 .5 .1-1.4 .1-.1 .1 2.3 .1-1.5 0 1.2 .1-.9 .1 .2 .1 1.9 .1-2.1 .1 0 .1-1 .1 .2 0 .8 .1-.9 .1 3.3 .1-1 .1-2.5 .1 .5 .1 0 .1 1 0-.4 .1 .8 .1-1.4 .1 .6 .1 0 .1 1 .1-1.7 .1 .2 .1-.4 0 .2 .1 .3 .1 1.1 .1-.2 .1-1.1 .1 1.2 .1-.6 0-.7 .1 3.9 .1-3.3 .1 2.6 .1-2.9 .1 .8 .1-.2 .1 .7 .1-1.5 0 1.5 .1 .1 .1 .4 .1 .1 .1-1.5 .1 .5 .1-.1 0 .1 .1 .3 .1-.5 .1-.6 .1 .4 .1-.6 .1 1.4 .1 1.4 .1-2.6 0 1.6 .1-1.4 .1 .2 .1 .9 .1-1.5 .1 .4 .1 .8 0 .6 .1-1.4 .1 .6 .1 1.4 .1-.6 .1 1.2 .1 1 .1-2.8 .1 2.3 0-2.1 .1-1 .1 .4 .1 1.4 .1-1.7 .1 2.3 .1-1 .1 1.1 .1-1.3 .1-1.1 .1-.2 .1 .3 .1-.1 .1 .2 0 .4 .1-.6 .1 .3 .1-.1 .1 .6 .1 .8 .1-.8 .1 .4 0-.5 .1 0 .1-.8 .1 .5 .1 1.3 .1-1.5 .1 .9 .1-1.2 .1 2 .3-1.2-.4-1.7 1.1 1.4-.8-.1 .9 1.4-.8 .8 1.2-.5-.8-.4 .8-.7-.3-.3 .9-.3-.6-1.5 1 1.7-.4 2.2 .7-1.8-.8-.4 1.1 1-.6 .5 .7 .8-.8 .2 1.1 .1-1.1-1.7 .9-.2-.5-.7 .6 .1-1.3 3.1 .9-.3-1.2 1 .9-.6-1-.5 .6 .1-1-1.2 .7 .9-.9-2.4 .2 .6-.7 .3 .7 .7-.5 1.6 .2 2.7-.8-3.6 .1 3.5-.1 36.7"/></defs>
<use href="#c5" stroke="#1616a8" stroke-width="0.95" fill="none"/>
<use href="#c5" stroke="#0000ff" stroke-width="0.5" fill="none"/>
<path d="M261.5 258.7v-2.3M261.5 203.6v2.3M305.38 258.7v-2.3M305.38 203.6v2.3M349.25 258.7v-2.3M349.25 203.6v2.3M393.12 258.7v-2.3M393.12 203.6v2.3M437 258.7v-2.3M437 203.6v2.3M261.5 258.7h2.3M437 258.7h-2.3M261.5 231.15h2.3M437 231.15h-2.3M261.5 203.6h2.3M437 203.6h-2.3" stroke="#505050" stroke-width="0.8" fill="none"/>
<rect x="261.5" y="203.6" width="175.5" height="55.1" stroke="#868686" stroke-width="1.2" fill="none"/>
<defs><path id="c6" d="M261.5 205.9l.1-.2 .1 .2 .1-.5 .1 .3 0 .1 .1-.2 .1-.1 .1 .6 .1-.3 .1 .3 .1 .1 .1 0 0 .1 .1-.3 .1 .2 .1 .3 .2 0 .1-.3 .1 0 0-.1 .1 .9 .1-.3 .1-.4 .1 .4 .1 0 .1 .1 .1 .1 0-.4 .1 .7 .1-.6 .1 .5 .1-.5 .1 .7 .1-.1 .1 .2 0-.2 .1-.1 .2 0 .1 .2 .1-.2 .1-.1 .1-.4 0 .7 .1-.4 .1-.1 .1-.1 .1 .3 .1 0 .1-.1 .1-.1 .1 .2 0-.2 .1-.1 .1-.1 .1 .1 .1 .2 .1-.4 .1 .1 .1 .1 0-.4 .1 .2 .1 0 .1-.2 .1 .3 .1-.4 .1-.2 .1 .1 .1-.1 .1-.3 .1-.3 .1 .7 .1 0 .1-.5 .1 .4 0-.1 .1-.3 .1 .1 .1 .1 .1-.3 .1 .4 .1-.6 .1 .5 0-.3 .1 .1 .1-.3 .1 .5 .1 0 .1-.4 .1-.1 .1 .3 .1-.1 .1 .3 .1-.2 .1 .6 .1-.2 .1-.2 .1 .1 .1 .3 .1-.4 .1 .6 .1 0 .1-.4 .1 .2 .1 .3 .1 0 0-.1 .1 .5 .1-.6 .1 .6 .1-.1 .1-.1 .1 .2 .1-.4 0 .4 .1 0 .1-.3 .1 .5 .1 0 .1-.3 .1 .5 .1-.2 0-.1 .1 .1 .1-.1 .1 .2 .1-.1 .1 .4 .1 0 .1-.7 0 .5 .1-.4 .1 .6 .1-.3 .1-.1 .1-.4 .1 .1 .1 .5 0-.5 .1 .1 .1 0 .1-.4 .1 .3 .1 0 .1 .4 .1-.6 .1 .4 0-.6 .1 .5 .1-.2 .1-.6 .1 .4 .1 0 .1-.4 .1 .5 0-.6 .1 .1 .1-.2 .1 .3 .1-.1 .1 .2 .1-.8 .1 .4 0 .2 .1-.2 .1 .2 .1-.1 .1-.3 .1 0 .1 .1 .1-.5 0 .5 .1-.3 .1 .3 .1-.2 .1 .5 .1-.3 .1 .2 .1-.6 0 .4 .1 .2 .1-.4 .1-.1 .1 .4 .1 .1 .1-.1 .1 0 0 .4 .1 0 .1-.8 .1 .9 .1-.2 .1 .2 .1 .3 .1-.3 0 .2 .1 .1 .1-.4 .1 .4 .1 0 .1 .6 .1-.5 .1 .1 .1 .2 .1-.2 .1 .4 .1-.2 .1 .5 .1-.3 .1 .1 .1-.1 0-.6 .1-.2 .1 1.1 .1-.7 .1 .1 .2 0 .1 .2 0-.1 .1-.1 .1 .4 .1-.3 .1-.1 .1-.4 .1 .2 .1 .4 0-.4 .1 .1 .1 0 .1-.1 .1 0 .1-.3 .2 0 0-.2 .1 .3 .1-.4 .1-.1 .1 .1 .1-.1 .1 .2 .1-.3 0 .2 .1-.7 .1 .5 .1-.2 .1 .1 .1-.3 .1 .3 .1-.2 .1 .1 0-.1 .1-.1 .1-.5 .1 .2 .1 .5 .1-.2 .1-.2 .1-.1 0 .2 .1 .1 .1 0 .1-.1 .1 .3 .1-.3 .1 .1 .1 .2 0 .3 .1-.3 .1 .2 .1-.1 .1 .2 .1-.1 .1 .1 .1-.2 0 .4 .1-.4 .1 .3 .1 .2 .1-.3 .1-.2 .1 .8 .1-.1 0-.1 .1 0 .1 .1 .1 0 .1 .3 .1-.4 .1 .4 .1-.5 0 .7 .1-.1 .1 0 .1 .2 .1-.3 .1 .5 .1-.1 .1-.5 .1 .5 .1-.3 .1 .4 .1 .3 .1-.3 .1 .2 .1-.7 .1 .3 0 .2 .1-.3 .1 0 .1 .4 .1-.4 .1 .3 .1-.5 .1-.1 0 .1 .1 .1 .1 0 .1-.4 .1 .4 .1-.7 .1 .5 .1-.1 0 .3 .1-.6 .1 .2 .1-.1 .1 0 .1-.3 .1 .3 .1 0 0-.3 .1-.1 .1 .1 .1 0 .1-.7 .1 .6 .1-.1 .1-.1 0-.3 .1 .2 .1 .6 .1-.9 .1 .3 .3 0 .1-.3 0 .1 .1 0 .1 .1 .1-.2 .1 0 .1 .2 .1 .2 .1-.5 0 .1 .1 .5 .1-.3 .1 0 .1-.1 .1 .1 .1 .3 .1-.1 0-.2 .1 .4 .1-.1 .1 0 .1 .3 .1 .3 .1 .1 .1-.3 0 .1 .1 .2 .1 .4 .1-.1 .1-.2 .1-.3 .1 .6 .1 0 0 .1 .1-.5 .1 .2 .1 .5 .1-.2 .1 .2 .1-.2 .1 .1 0-.4 .1 .6 .1-.1 .2 0 .1-.1 .1 0 .1-.1 .1 .5 0-.4 .1 0 .1-.5 .1 .4 .1 .3 .1-.3 .1 .2 .1-.3 0 .2 .1-.4 .1 .2 .1 .1 .1-.2 .1-.5 .1 .7 .1-.4 0-.2 .1-.2 .1 .3 .1-.3 .1-.2 .1 .3 .1-.3 .1 .4 0-.5 .1 0 .1 .3 .1 0 .1-.6 .1 .4 .1-.6 .1 .2 .1 0 .1-.1 .1 .1 .1 .2 .1-.3 .2 0 0 .2 .1 0 .1-.1 .1-.1 .1 .2 .1-.5 .1 .4 .1-.1 .1 .3 0-.2 .1 0 .1 .1 .1 .3 .1-.3 .1 .3 .1-.2 .1 .2 .1-.2 .1 .3 .1 .1 .1 .3 .1-.3 .1 .1 .1-.1 0 .1 .1 .1 .1 0 .1 .2 .1 .2 .2 0 .1 .1 0 .2 .1-.3 .1 .6 .1-.6 .1 .3 .1-.2 .1 .2 .1 .1 0 .4 .1-.2 .1-.2 .1 0 .1-.2 .1 .2 .1-.3 .1-.1 0 .4 .1 .2 .1-.2 .1-.3 .1-.2 .1 .3 .1-.2 .1 .2 .1 .5 0-.4 .1-.2 .1-.5 .1 .6 .1-.2 .1-.1 .1 0 .1-.1 0-.5 .1 .7 .1-.6 .1 .1 .1 0 .1 .1 .1 0 .1-.6 .1 .4 .1 0 .1-.2 .1-.1 .1-.1 .1 .3 .1 .2 .1-.3 .1-.5 .1 .5 .1-.3 .1 .3 .1-.2 .1-.3 0 .1 .1 .2 .1-.1 .1 .4 .1 .2 .1-.5 .1 .4 .1-.2 0 .1 .1-.1 .1-.5 .1 .3 .1-.4 .1 .6 .1 .1 .1 .1 .1-.8 0 .6 .1-.3 .1 .1 .1 .3 .1 .3 .1 .2 .1-.2 .1-.4 0 .1 .1 .6 .1 0 .1-.3 .1-.1 .1-.2 .1-.3 .1 1.3 .1-.1 .1-.5 .1-.2 .1 .3 .1 .1 .1 .3 .1-.2 0 .1 .1-.4 .1 .6 .1-.5 .1 .1 .1 .4 .1-.3 .1-.6 .1 .2 .1 0 .1 1.1 .1-.6 .1-.9 .1 .6 .1-.4 0-.2 .1 1.6 .1-1.1 .1-.3 .1 .4 .1-.6 .1 .5 .1 0 .1-.2 0-.3 .1 .5 .1-.3 .1 .1 .1 .1 .1 .3 .1-.2 .1-.2 0 .7 .1-.1 .1-.6 .1-.2 .1-.2 .1 .7 .1-.2 .1-.5 0 .1 .1 .4 .1-1.1 .1 1.6 .1-.6 .1-.2 .1 .4 .1-.7 0-.3 .1 .4 .1 .2 .1-.3 .1 .5 .1-.3 .1-.2 .1-.1 0 1.4 .1-.5 .1-.6 .1-.1 .1 .3 .1 .4 .1-.2 .1 .4 0 .1 .1-.8 .1 .6 .1 .2 .1-1.6 .1 1.3 .1 .3 .1-.5 0-1.6 .1 1.7 .1-.6 .1-.4 .1 .5 .1 .9 .1-.3 .1-.7 .1-.2 0 2.2 .1-2 .1 .8 .1-.3 .1-.3 .1 .7 .1-.5 .1-1 0 .3 .1 1.7 .1-1 .1 1.2 .1-.2 .1-1.1 .1 .9 .1-.2 0-.4 .1-.3 .1 1.1 .1-.2 .1-.5 .1 .7 .1-1.2 .1 0 0-.3 .1 1.2 .1-.8 .1 1.1 .1-.8 .1 .5 .1-.7 .1 .3 0 .7 .1-1.4 .1 1.5 .1-1.8 .1 .2 .1 .1 .1 .4 .1-.3 0 .7 .1 .1 .1 .8 .1-1.5 .1 1 .1-.4 .1 .1 .1-.9 .1 .3 0 1.3 .1-1.3 .1-.2 .1 .7 .1 .3 .1-.8 .1 .8 .1-.6 0-.2 .1-.5 .1 1.9 .1-.9 .1 .6 .1-.8 .1 .6 .1 .3 0-.5 .1-.6 .1 .8 .1-.3 .1 0 .1-1.4 .1 .6 .1 1.6 0-.7 .1-.5 .1-.2 .1-.3 .1 .2 .1 1.1 .1-.2 .1-1.1 0 1.4 .1 .3 .1-.7 .1 .4 .1-.1 .1-.1 .1-.5 .1-.4 0 1.1 .1-.1 .1 .1 .1 .1 .1-.7 .1 .8 .1-1.4 .1 1.7 .1-1.2 0-.7 .1 .8 .1 .6 .1 .3 .1 .3 .1-.5 .1-.2 .1 .3 0-.9 .1 .8 .1-.2 .1 .2 .1-.4 .1 .1 .1 .9 .1-.1 0-1.1 .1 .1 .1 .4 .1 .9 .1-1.3 .1-.1 .1-.7 .1 1.2 0-.1 .1-.7 .1 1 .1-.8 .1 .7 .1-.5 .1-.2 .1 .9 0-.6 .1-.1 .1 .7 .1-.7 .1 0 .1 .5 .1 .3 .1-.9 0 .6 .1-.3 .1-.9 .1 1.2 .1-.9 .1 .2 .1 .3 .1 .9 .1-.5 0-.2 .1 0 .1 .2 .1 .7 .1 .6 .1-1 .1 .7 .1-.4 0-.4 .1-.5 .1 .5 .1 .2 .1-.3 .1 1.1 .1-1.2 .1 .5 0-.4 .1 0 .1 .2 .1-1.1 .1 1.2 .1-.4 .1-.2 .1 .3 0-1.2 .1 1.6 .1-.2 .1 0 .1-.6 .1 1 .1-.2 .1 0 0-.6 .1 .1 .1 .1 .1-.2 .1 0 .1 .6 .1-.2 .1-.3 0-.7 .1 1.4 .1-.5 .1 .4 .1-.3 .1-.2 .1 .3 .1-1.4 .1 1 0 1.5 .1-1 .1 .3 .1-1.9 .1 1.7 .1-.5 .1 .5 .1-.3 0 .2 .1 0 .1 .2 .1-1.1 .1 .4 .1 .1 .1-.5 .1 .2 0 .5 .1-.3 .1 0 .1 .8 .1 .1 .1-.7 .1 .5 .1-1.1 0 .2 .1 .8 .1-.8 .1 .6 .1-.9 .1 1 .1 .2 .1-1.6 0 2 .1-1 .1 .6 .1-.8 .1 .3 .1-.6 .1 .1 .1 1.2 0-.4 .1 .3 .1 .6 .1-.9 .1 .2 .1 .2 .1-1.5 .1 .1 .1 .9 0-.5 .1-.7 .1 1 .1 .3 .1-.4 .1 .1 .1-.5 .1 .5 0 .6 .1-.2 .1-.2 .1 .5 .1-.4 .1 1 .1-1.4 .1-.2 0 .2 .1 1.2 .1-.5 .1-.6 .1 1.7 .1-1.5 .1-.3 .1-.1 0 1 .1-1.2 .1-.2 .1 .7 .1-.4 .1-.1 .1 .1 .1 1.2 0-1.4 .1 .9 .1 .1 .1 .3 .1-.3 .1 .2 .1-.4 .1-.5 0 .7 .1 .4 .1-1.1 .1-.8 .1 1.5 .1 .5 .1-.6 .1-.6 .1 .3 0 .5 .1-.3 .1 0 .1-.7 .1 1.1 .1-1.2 .1 1 .1-.8 0 .1 .1 .6 .1-.3 .1 .1 .1-.2 .1 .1 .1-.4 .1 1.2 0-.5 .1-1.2 .1 1.4 .1-.5 .1 1 .1-2.2 .1 .6 .1 0 0 .1 .1-.4 .1 .4 .1 1.2 .1-.2 .1 .3 .1-.3 .1-.9 0 .6 .1-.2 .1 0 .1-.7 .1 .4 .1-.8 .1 .5 .1 1 0 .2 .1-.2 .1-.5 .1 .5 .1 .4 .1-1.1 .1 .5 .1-1.1 0 1.2 .1-1.1 .1 1.3 .1 .7 .1-.7 .1-1.6 .1 .7 .1 .1 .1 .4 0 .5 .1-1.4 .1 1 .1-.1 .1 .4 .1-.2 .1-.2 .1-.2 0-.1 .1 .4 .1-.3 .1 1.1 .1-.8 .1 .4 .1-.2 .1-1.1 0 1.1 .1 .2 .1-.7 .1 .9 .1 .2 .1-1 .1 .2 .1 .4 0 .2 .1 0 .1-.3 .1-1.7 .1 1.8 .1 .1 .1-.6 .1-.6 0 1.9 .1-.7 .1-.9 .1 .7 .1-.6 .1 .5 .1-.3 .1 .5 0-.3 .1-.3 .1 .1 .1-1 .1 .9 .1 .5 .1 .1 .1 .2 .1-.8 0-.2 .1-.1 .1 1.5 .1-.2 .1-1.5 .1-1 .1 1 .1 0 0 .8 .1 0 .1-.5 .1 .7 .1 .3 .1-.9 .1 .8 .1-.1 0 .8 .1-1.7 .1 .1 .1 .2 .1 .6 .1-.1 .1-.3 .1-.2 0 .3 .1 .1 .1-.1 .1 .4 .1 0 .1-.6 .1 .4 .1-.4 0-.3 .1 .8 .1-.6 .1 0 .1 .2 .1-1 .1 1.2 .1-1.1 0 .3 .1 .6 .1-.5 .1 .6 .1-1 .1 .6 .1-.7 .1 1.4 .1 0 0-1.8 .1 1.3 .1 .4 .1 .3 .1-.8 .1-.3 .1-.1 .1 .5 0 .6 .1-.7 .1 .4 .1 .7 .1-1.2 .1 .8 .1-.1 .1-.7 0 .4 .1 .3 .1 .4 .1-1.8 .1 1.8 .1-1.1 .1 .3 .1 .5 0-.5 .1 0 .1-.3 .1 .1 .1-.6 .1 .3 .1 .9 .1-1.3 0 .6 .1 1.1 .1-1.8 .1 1.3 .1-.3 .1-.4 .1-.2 .1 .3 0-.8 .1 1.4 .1-.3 .1-.1 .1-1.1 .1 .1 .1 1.6 .1-1.3 .1 .7 0 1.3 .1-1.9 .1 1.5 .1 .1 .1-1.5 .1 0 .1 .6 .1 .4 0-.6 .1 .5 .1-.3 .1 .1 .1-.2 .1 .6 .1-.2 .1-.7 0 1.2 .1-1.2 .1 .2 .1 .7 .2 0 .1-.3 .1 .2 0-.9 .1 1 .1-.7 .1 .5 .1-.6 .1-.1 .1 1 .1-.3 0-.3 .1-.5 .1 .5 .1-.3 .1 .5 .1 0 .1 .5 .1 .4 0-.5 .1-.9 .1 .1 .1 .5 .1-.8 .1 .3 .1 1.1 .1-1.3 .1 .4 0 .2 .1 .2 .1-.5 .1-.3 .1 .8 .1-.6 .1 1 .1-.6 0-.7 .1-.1 .1 .8 .1-.7 .1 .6 .1-.2 .1 .4 .1-2.4 0 2.1 .1 0 .1 .2 .1-1 .1-.4 .1 1.5 .1-.6 .1 .4 0-.4 .1 .4 .1-1.3 .1 1.2 .1-.7 .1-.1 .1 .8 .1-1 0 .8 .1 .3 .1 .2 .1-.7 .1-.1 .1 .9 .1-.6 .1 .8 0 .3 .1-1.9 .1 1.5 .1 0 .1-.8 .1 .6 .1-.3 .1 .1 .1 0 0-.7 .1 0 .1 .2 .1-.6 .1 1.4 .1-.6 .1-.8 .1 .9 0-1 .1 .7 .1 1.1 .1-.5 .1-.5 .1 .1 .2 0 0 .8 .1-.7 .1-.2 .1 .2 .1-.6 .1 1 .1-1.4 .1 .4 0 .2 .1 .8 .1-.5 .1-.6 .1 .3 .1-.6 .1 2.1 .1-.6 0 .9 .1-1.2 .1-.3 .1 .3 .1-.7 .1 0 .1 1.5 .1-.9 .1 1.1 .1-1.6 .1 .8 .1 .8 .1-1 .1-.3 .1 .3 .1-.3 .1 .7 .1-1 .1 1.2 .1-.3 .1 .3 .1-1.4 .1-1 0 1.8 .1-1 .1 .7 .1 .3 .1-.1 .1 .1 .1-.2 .1 .3 0-.2 .1-.1 .1-1 .1 .2 .1-.4 .1-.7 .1 2.9 .1 .2 0-1.9 .1 0 .1 .7 .1-.4 .1 .9 .1-.9 .1 .5 .1-2.2 0 1.6 .1-.4 .1-.9 .1 1.1 .1 .4 .1-.3 .1 .6 .1-1.4 0 1.9 .1-.3 .1-1.5 .1 1.5 .1 .2 .1-.7 .1-.1 .1-.5 .1 .2 0-.2 .1-.5 .1 1.6 .1-1.2 .1-.8 .1 .9 .1-.1 .1 .4 0 .1 .1 .5 .1 .3 .1-1.6 .1 .6 .1-.3 .1 .8 .1-.6 0-.3 .1 .4 .1-.4 .1 1.6 .1-1.3 .1 1.4 .1-.9 .1-.6 0-.6 .1-.1 .1 1 .1 .2 .1-.6 .1-.6 .1 .3 .1 .3 0 .4 .1 .4 .1-.2 .1-.6 .1-.3 .1 2.1 .1-2 .1 .4 0-.7 .1 .6 .1-.9 .1 1.1 .1 .2 .1-1.1 .1 .7 .1 .2 .1 1.4 0-1 .1-2.6 .1 1.6 .1 .1 .1 .7 .1-.7 .1 .1 .1-.7 0 .1 .1 1.1 .1 .1 .1-.3 .1-1.2 .1 1.2 .1-.8 .1-.6 0 1.8 .1 .2 .1-.4 .1-.3 .1-1.6 .1 1.7 .1-.8 .1-.2 0-.1 .1 1.5 .1-1.1 .1 .8 .1 .3 .1 .1 .1-.7 .1-.2 0-1.7 .1 .4 .1 2.6 .1-1.2 .1-.8 .1-.3 .1-.8 .1 1.5 0-.5 .1 .2 .1-.4 .1 1.4 .1 .5 .1-2.4 .1 2.2 .1-1 0 .7 .1-.7 .1 .5 .1-1.3 .1 1.4 .1-.1 .1-.3 .1 .6 .1-.1 0-.9 .1-.2 .1-.9 .1 2 .1-1.6 .1 .5 .1-.2 .1 0 0 .2 .1 0 .1-.9 .1 1.3 .1-.2 .1 .2 .1-.7 .1-.7 0 2.6 .1-2.4 .1 .5 .1-1.1 .1 1.6 .1 .9 .1-1.8 .1 1 0-.5 .1-.2 .1-.8 .1 1.8 .1 1.3 .1-2.7 .1 1.2 .1-.1 0-.3 .1 .7 .1-.9 .1 .2 .1-.3 .1 1.9 .1-.7 .1-3 0 3.1 .1-2.1 .1 .2 .1 1.2 .1-.5 .1 .2 .1 1.4 .1 .1 .1-2.3 0 1 .1 .3 .1 0 .1-1.2 .1 .4 .1 0 .1 .1 .1 .1 0 .7 .1-1 .1-.7 .1 1.4 .1-.6 .1 .2 .1-.1 .1-.5 0 .7 .1 .8 .1-1.7 .1 1.7 .1-.5 .1-.3 .1-.5 .1 .5 0-.6 .1-.1 .1 .8 .1 .3 .1-.4 .1 .4 .1-.5 .1-1.8 0 1.8 .1 .6 .1-1.6 .1 .4 .1-.4 .1 1.9 .1-.9 .1 .1 0-.8 .1 1.7 .1-2 .1 1.5 .1-2.1 .1 1.6 .1-1 .1 .4 .1 .9 0 .4 .1-1 .1 0 .1-.1 .1 .9 .1-.1 .1 .5 .1-1.2 0-.9 .1 .6 .1 1 .1-.5 .1-.7 .1-.8 .1 2.1 .1-1.5 0 .6 .1 .3 .1-1.1 .1 .4 .1 .7 .1 .1 .1-2.3 .1 2.3 0-.3 .1-2.3 .1 2.1 .1-.5 .1-.2 .1 .2 .1 .4 .1-1.8 0 2.4 .1 .8 .1-3.4 .1 2.3 .1 .3 .1-1.7 .1 0 .1 .4 0 .3 .1 .7 .1-1.2 .1 .3 .1 1.2 .1-.6 .1 0 .1 .2 .1 1 .1-1.4 .1-.3 .1 .6 .1-1.2 .1 2.2 .1-1.2 .1-.7 0 .7 .1 .8 .1-1.6 .1 .5 .1 .3 .1-1.3 .1 2.4 .1-.7 0-.3 .1-.9 .1 1.3 .1-.6 .1 1.3 .1-1.3 .1 .6 .1 .5 0-1.1 .1 .6 .1-.3 .1-.1 .1-.4 .1 .3 .1 .6 .1-.6 0 1 .1-.4 .1-.3 .1-.8 .1-.8 .1-.7 .1 1.9 .1 1.3 0-1 .1-1.6 .1 .5 .1 .3 .1 .3 .1-.5 .1 1.6 .1-.1 .1-1.2 0 .7 .1-.2 .1-.5 .1 .8 .1-1.1 .1 .5 .1-.3 .1-.3 0 .5 .1-.3 .1 .6 .1 .5 .1-.4 .1-.8 .1 .6 .1-.7 0-1.6 .1 2.1 .1-.5 .1 .4 .1-.8 .1 .6 .1 .6 .1-.6 0-.1 .1 .2 .1-.1 .1 .1 .1-.4 .1 .7 .1-1 .1 .3 0 .9 .1 .2 .1-1.1 .1 .2 .1-.5 .1 .6 .1 0 .1 1.1 0-.3 .1-1.2 .1 .6 .1-.1 .1-.6 .1 1.2 .1-.1 .1 .3 .1-1.1 0 .2 .1 1.3 .1-3.1 .1 1.2 .1-.2 .1 .6 .1-.7 .1 1.6 0 .3 .1-.8 .1 .3 .1-.7 .1-.5 .1 1 .1-.3 .1 .2 0-.2 .1-.9 .1 .4 .1-.3 .1-1.1 .1 1.6 .1-.1 .1-.1 0 .7 .1-.6 .1 1.3 .1-.1 .1-1 .1 0 .1 .1 .1-.6 0 .1 .1-.2 .1 .6 .1 .3 .1-.4 .1 1.3 .1-.8 .1-.2 0 .7 .1-.4 .1-.1 .1 .6 .1-1.4 .1 .5 .1-1.1 .1 1.4 .1-1.6 0 1.4 .1-.4 .1 .9 .1 .4 .1-2.1 .1 .9 .1 .2 .1-.9 0 1.5 .1-1.6 .1 .2 .1-.1 .1 1 .1 .2 .1-1.4 .1-.4 0 .2 .1-.3 .1 .6 .1 .5 .4 .2 .4 2.2 .4 1.1 .5-2.2-.5-1.1-.6 1.1-.6 .5-.1 52.9"/></defs>
<use href="#c6" stroke="#1616a8" stroke-width="0.95" fill="none"/>
<use href="#c6" stroke="#0000ff" stroke-width="0.5" fill="none"/>
<path d="M492.4 258.7v-2.3M492.4 203.6v2.3M536.2 258.7v-2.3M536.2 203.6v2.3M580 258.7v-2.3M580 203.6v2.3M623.8 258.7v-2.3M623.8 203.6v2.3M667.6 258.7v-2.3M667.6 203.6v2.3M492.4 254.46h2.3M667.6 254.46h-2.3M492.4 233.27h2.3M667.6 233.27h-2.3M492.4 212.08h2.3M667.6 212.08h-2.3" stroke="#505050" stroke-width="0.8" fill="none"/>
<rect x="492.4" y="203.6" width="175.2" height="55.1" stroke="#868686" stroke-width="1.2" fill="none"/>
<defs><path id="c7" d="M492.4 212.2l.1-.1 .1 .1 .1 0 .1-.1 0 .1 .2 0 .1-.1 .1 .2 .1 0 .1-.2 .1 .2 0-.1 .1-.1 .1 0 .1 .1 .1-.1 .1 0 .1 .1 .1 .1 0-.2 .1 .1 .1 .1 .1-.2 .1 .1 .1 .1 .1 .1 .1-.2 .1 .2 .1-.2 .1 0 .1 .2 .1-.1 .1-.1 .1 0 .1 .2 .1-.3 .1 .2 .1-.2 .1 .1 .3 0 .1-.1 .1 .2 .1-.1 .3 0 .1 .1 .1-.1 .1 .1 .1-.1 .3 0 0-.1 .1 .2 .1-.1 .6 0 .1-.1 .1 0 .1 .1 .1 0 .1-.1 .1 .4 0-.4 .1 .1 .2 0 .1 .1 .1 0 .1-.1 .1 0 0-.1 .1 .2 .1-.2 .1 .1 .1 .1 .1-.1 .1 .1 .1-.2 0 .1 .1 .2 .1-.2 .1 0 .1-.1 .1 .1 .1 .1 .1-.2 .1 .1 .1-.1 .2 0 .1 .1 .1 0 .1-.1 0 .1 .1-.1 .6 0 0 .1 .1-.1 .1 .1 .1-.1 .1 0 .1 .1 .1-.1 .1 0 .1 .1 0 .1 .1-.1 .1 .1 .1-.1 .1-.1 .1 .1 .1-.1 .1 0 .1 .1 .1 0 .1 .1 .1-.2 .3 0 0 .1 .1-.1 .1 0 .1 .1 .1 .1 .1-.1 .1-.1 .1 .1 .1-.1 .1 .2 .1-.1 .1 0 .1-.1 .1 0 .1 .1 .1 0 .1-.1 .1 .1 .2 0 .1 .2 .1-.2 .1 0 .1-.1 .1 .1 .1 .1 .1-.1 .1 .1 .1-.1 .1 .2 .1-.2 .1 0 .1-.1 .1 .1 .1 .1 .1-.2 .1 0 .1 .1 .1-.1 .1 .2 .1-.2 .1 .1 .1 0 0-.1 .1 0 .1 .1 .1 0 .1-.1 .2 0 .1 .1 0 .1 .1 0 .1-.2 .1 .1 .1 .1 .2 0 .1-.1 .1-.1 .4 0 .1 .1 .1 0 0 .2 .1-.2 .1-.1 .2 0 .1 .1 .1 .1 .1-.1 0 .3 .1-.2 .1-.2 .1 .1 .2 0 .1-.1 .1 .2 0-.2 .1 .1 .1 .1 .1 .1 .1-.2 .1 .1 .1 .1 .1 0 0-.2 .1 0 .1-.1 .2 0 .1 .1 .1 0 .1-.1 .1 .2 .1-.1 .1 0 .1 .2 .1-.3 .1 .2 .1-.1 .1 .1 0-.1 .1 0 .1-.1 .1 .1 .1 0 .1-.1 .1 .1 .1 0 .1 .2 .1-.2 .1 0 .1-.1 .3 0 .1 .2 .1-.2 .1 .3 .1-.2 .1 0 .1-.1 .1 0 .1 .1 .1 0 .1-.1 .3 0 .1 .1 .1 0 .1 .1 .1-.2 .1 .3 .1-.2 .1 .2 .1-.2 0-.1 .1 .2 .1 0 .1-.1 .1 .2 .1-.1 .1-.1 .1-.1 0 .1 .1 .1 .1-.2 .1 .3 .1-.3 .1 0 .1 .1 .1-.1 0 .2 .1 0 .1-.2 .1 .1 .1-.1 .1 .1 .1 0 .1-.1 .1 .1 .1 .1 .1-.2 .1 .2 .1 0 .1-.2 .1 .1 0-.1 .1 .3 .1-.3 .1 .1 .1 0 .1 .1 .1-.1 .1 .2 0-.3 .1 .2 .1-.1 .1 0 .1-.1 .1 .1 .1 0 .1-.1 .1 0 .1 .1 .1-.1 .2 0 .1 .1 .5 0 .1-.1 .1 0 .1 .1 0-.1 .1 0 .1 .1 .1 0 .1 .1 .1-.2 .1 0 .1 .2 0-.1 .5 0 .1 .1 .1-.1 .1 .2 .1-.2 .1-.1 .1 .1 .1 .1 .1-.1 .2 0 0-.1 .1 .2 .1-.1 .1-.1 .1 .2 .1-.2 .1 .1 .1 0 0 .1 .1-.2 .1 .2 .1 .1 .1-.3 .2 0 .1 .1 .1 .1 .1 0 .1-.1 .1 .1 .1-.1 .1-.1 .1 .2 0-.2 .1 .2 .1 .1 .1-.2 .1 .3 .1-.3 .1 .1 .1 0 0-.1 .1 0 .1 .1 .1-.1 .1 0 .1 .4 .1-.5 .1 .1 0 .2 .1-.2 .1 0 .1 .1 .1-.1 .2 0 .1-.1 0 .4 .1-.2 .1 0 .1-.1 .1 0 .1 .2 .1-.2 .1 0 0-.1 .1 0 .1 .2 .1-.1 .1 .1 .1 .1 .1-.2 .1 0 0-.1 .1 0 .1 .3 .1-.1 .1-.1 .1 .1 .2 0 0-.2 .1 .2 .1-.1 .1-.1 .1 0 .1 .3 .1-.2 .1-.1 0 .2 .1-.2 .1 .1 .3 0 .1 .3 .1-.4 0 .1 .1-.1 .1 .1 .1-.1 .1 .1 .1 0 .1-.1 .1 .2 0-.1 .1-.1 .1 .2 .1-.2 .1 .1 .1 .1 .1-.1 .2 0 .1 .1 .1-.2 .1 .2 .1 0 .1-.1 .1-.1 .1 .1 .1-.1 .1 .1 .1 .2 .1-.3 .1 .2 .1 .1 .1-.1 0-.2 .1 .1 .2 0 .1-.1 .1 .1 .2 0 .1-.1 .1 .1 .1-.1 .1 0 .1 .1 .1 .2 .1-.1 .1-.1 .1 .2 .1-.2 .1-.1 .1 .3 .1-.1 .1-.2 0 .4 .1-.3 .1 0 .1 .1 .1-.1 .2 0 .1 .1 .1 0 .1-.1 .1-.1 .1 .1 .1 .1 .1-.1 .1-.1 0 .1 .1 .3 .1-.3 .1 .2 .1-.1 .1-.1 .1 0 .1-.1 0 .1 .1-.1 .1 .1 .1 .2 .1-.1 .1-.1 .1 .2 .1-.1 0-.1 .1 0 .1 .1 .1 0 .1 .1 .1-.2 .1-.1 .1 .1 0-.1 .1 .3 .1-.1 .1-.2 .1 .1 .1-.1 .1 .3 .1-.1 .1 0 .1-.1 .1 .1 .2 0 .1 .1 .1-.1 .1-.2 .1 .1 .1 .1 .1-.1 .1-.1 .1 .2 .1-.1 0 .1 .1 0 .1-.1 .1 .1 .1-.1 .1 0 .1-.1 .1 .1 .1 0 .1 .1 .1-.2 .4 0 0 .2 .1 0 .1-.2 .1 .3 .1-.1 .1-.1 .1-.1 .1 .1 .1-.1 .1 .1 .3 0 .1 .1 .1 0 .1-.2 .1 0 .1 .1 .2 0 .1 .2 .1-.2 .1 0 .1 .1 .1 0 .1-.2 .1 .1 .3 0 0-.1 .1 .1 .1 0 .1 .1 .1-.1 .1 .1 .1-.1 .1 .1 0-.1 .3 0 .1-.1 .1 .1 .2 0 0 .3 .1-.4 .1 .1 .1 .1 .1-.2 .1 .1 .1 .1 .1-.2 .1 .1 .5 0 .1-.1 .1 .2 .1-.1 .1 .1 .1-.1 .1 .1 .1-.1 .3 0 .1 .1 .1-.1 .2 0 .1 .1 .1-.1 .1 .1 .1-.1 .1 0 .1 .1 .1-.1 .3 0 .1-.1 .1 0 .1 .3 .1-.2 .1 .2 0-.2 .4 0 .1-.1 .1 .1 .1-.1 0 .2 .1-.1 .1-.1 .1 .2 .1-.1 .1 0 .1 .1 .1-.1 .1 .1 .1 0 .1-.1 .1 .1 .1-.1 .1 .1 .1-.1 0-.1 .1 .2 .1-.2 .1 .1 .1 0 .1 .1 .1-.1 .1 0 0 .2 .1-.3 .1 .3 .1-.2 .1-.1 .1 .2 .1 0 .1-.1 0 .1 .1 0 .1 .1 .1-.3 .1 0 .1 .1 .1 .1 .1-.1 .1 .1 .1 0 .1-.1 .1 .2 .1 0 .1-.2 .1 .1 .1-.1 .1 .4 .1-.2 .1-.2 .1 .1 .1-.1 .1-.1 .1 .1 0-.1 .1 .2 .1-.1 .1 0 .1 .2 .1 0 .1-.1 .1-.1 0 .2 .1-.2 .1 0 .1-.1 .1 .1 .2 0 .1 .4 0-.4 .2 0 .1 .1 .1-.1 .1 0 .1-.1 .1 .1 .1 0 .1 .1 .1-.1 .2 0 .1-.1 .1 .2 .2 0 .1-.1 .1 0 .1 .2 .1-.1 .1-.1 .1 .1 .2 0 .1-.1 .1-.1 .1 .4 .1-.2 0-.1 .2 0 .1 .2 .1-.1 .1-.1 .1 .2 .1-.2 0 .1 .2 0 .1-.1 .1 .1 .3 0 0-.1 .1 0 .1-.1 .1 .1 .1 .1 .1-.1 .2 0 .1-.1 .1 0 .1 .2 .1-.1 .3 0 .1 .1 .1 .1 .1-.3 .1 .1 .1 0 .1 .3 .1-.1 0-.2 .1 0 .1 .2 .1 0 .1-.2 .1-.1 .1 .1 .1 0 0 .1 .1-.2 .1 .1 .1 .1 .1-.1 .1 0 .1-.1 .1 .1 .7 0 .1-.1 0 .3 .1-.2 .1 0 .1-.1 .1 .2 .1-.1 .1-.1 .1 .2 .1-.1 .1 0 .1 .1 .2 0 .1 .2 .1-.4 0 .3 .1-.1 .1 .2 .1-.3 .1 0 .1 .1 .1 .1 .1-.2 0-.1 .1 .2 .1-.1 .1 .1 .1-.1 .1-.1 .1 .1 .1 0 0 .1 .1 .2 .1-.4 .2 0 .1 .1 .1 0 .1 .3 .1-.3 .1 .4 .1-.2 .2 0 .1-.2 .1 0 .1 .1 .1-.2 .1 .1 .1-.1 .1 0 .1 .2 .1 0 .1-.1 .1 .1 .1-.1 .1 0 .1-.1 .1 .1 .1 0 0 .1 .1 0 .1-.1 .1 .2 .1-.2 .1 .1 .1-.2 .1 .2 0 .1 .1-.2 .1 0 .1-.1 .1 0 .1 .2 .1-.1 .1 .1 .1-.1 .1 .3 .1-.1 .1-.3 .1 0 .1 .2 .1 .1 0-.2 .2 0 .1-.1 .1 .1 .1 .2 .1-.1 .1-.2 0 .2 .1 0 .1-.1 .1 .1 .1 0 .1-.1 .1 .1 .1 0 0-.1 .1 .1 .1 0 .1-.1 .1 .1 .1 0 .1-.1 .1 0 .1 .2 .1 0 .1-.2 .1 .1 .2 0 .1-.2 .1 .1 0 .2 .1-.1 .1-.1 .1 .1 .1 0 .1-.2 .1 .2 .1 .1 0-.1 .1-.2 .1 .2 .2 0 .1-.1 .1 0 .1-.1 0 .3 .1-.1 .1 0 .1-.1 .1-.1 .1 .1 .1 0 .1 .1 0-.1 .1 .1 .1-.2 .1 .2 .1 0 .1-.1 .1 0 .1 .1 0-.1 .1 .2 .1-.3 .1 .2 .1 .1 .1 0 .1-.1 .1-.1 .3 0 .1 .2 .1 0 .1 .1 .1-.3 0 .1 .1 0 .1-.1 .1 0 .1 .3 .1-.2 .1-.1 .1 0 0-.1 .1 0 .1 .1 .1-.1 .1 .2 .2 0 .1-.2 0 .2 .1-.1 .1 .1 .1-.1 .2 0 .1 .1 .1-.1 .1 0 .1 .1 .1-.1 .1 .2 .1-.2 .2 0 0 .2 .1-.1 .1 .1 .1-.1 .1-.1 .1 0 .1 .1 .1 .1 0-.2 .1 0 .1 .1 .1 .1 .1 .1 .1-.3 .1 .1 .1-.1 .1 .1 .1 .1 .1-.2 .1 .1 .1-.1 .1 .1 .1-.1 0 .1 .1 0 .1-.1 .1 0 .1 .2 .1-.2 .1 0 .1 .2 0-.1 .1-.1 .4 0 .1 .1 .1-.1 .1 .2 0-.2 .1 .1 .1 0 .1-.1 .1-.1 .1 .3 .1 0 .1-.1 0-.1 .1 .4 .1-.3 .1 0 .1 .1 .1-.1 .1 0 .1 .1 0-.3 .1 .1 .1 .1 .1 0 .1-.1 .1 .1 .1-.1 .1 .1 .1-.1 .1 .1 .1 .2 .1-.3 .1 .1 .1-.1 .1 0 0 .1 .1 .1 .1-.2 .1 .1 .1-.1 .3 0 .1 .1 .1-.1 .1 0 .1 .2 .1-.2 .4 0 .1 .1 .1-.1 .1 .1 .1-.1 .1 .1 .2 0 .1-.1 .1 0 .1 .1 .1-.1 .1 .3 0-.3 .1 .1 .1-.1 .1 .2 .1-.1 .1 .1 .1-.1 .1-.1 0 .2 .1-.1 .2 0 .1-.1 .1 0 .1 .1 .1-.1 0-.1 .1 .3 .1-.1 .1 .1 .1-.2 .2 0 .1 .1 0-.1 .3 0 .1 .3 .1-.1 .1-.3 .1 .1 .1 .3 .1-.3 .2 0 .1 .1 .1-.1 .1 .2 0-.1 .1-.1 .1 .3 .1-.1 .1-.3 .1 .2 .1-.1 .1 0 0 .3 .1-.3 .1 0 .1 .1 .1-.1 .1 0 .1 .1 .1-.1 0-.1 .1 .1 .1 .1 .1 0 .1-.1 .2 0 .1-.1 .1 .2 0-.1 .1 0 .1 .1 .1 0 .1-.1 .1 0 .1 .1 .1-.1 0 .1 .1 .2 .1-.3 .1 0 .1 .2 .1-.2 .1 0 .1 .2 0-.2 .1 .2 .1 0 .1-.2 .3 0 .1 .1 0 .2 .1-.2 .1 .2 .1-.1 .1-.1 .1 .1 .1-.1 .1 .1 0-.1 .1-.1 .1 .1 .1 .1 .1-.2 .2 0 .1 .1 .1-.1 .1 .1 .1 .1 .1-.1 .1-.1 .1 .2 .1-.2 .3 0 .1 .2 .1-.2 .1 .1 .1 .1 .1-.2 .1 0 .1 .2 .1-.2 .1 .3 .1 0 .1-.3 0 .1 .1 0 .1-.1 .1-.1 .1 .2 .1 .2 .1-.2 .1 .1 0-.2 .1 .3 .1-.3 .4 0 .1-.1 0 .1 .3 0 .1 .1 .1-.1 .1 0 .1 .3 0-.2 .1 0 .1-.1 .1 .2 .1-.2 .1 .1 .1-.1 .1 0 0 .3 .1-.2 .1 .2 .1-.2 .1-.1 .1 .1 .1 0 .1-.1 .2 0 .1 .2 .1-.2 .1 .2 .1 0 .1-.1 0-.1 .1 .2 .1-.2 .1 .1 .1 .1 .1-.1 .2 0 0-.1 .1 .2 .1-.2 .1 0 .1 .3 .1-.2 .1-.1 .1 .4 .1-.4 .1 0 .1 .1 .1 .1 .1-.1 .1-.1 .1 .1 .1 0 0-.1 .1 0 .1 .1 .1-.1 .1 .1 .1-.1 .1 .1 .1 0 0-.1 .3 0 .1 .1 .1 .1 .1-.2 .1 .1 0-.1 .1 .3 .1-.3 .2 0 .1 .1 .1-.1 .1 0 0 .1 .3 0 .1 .1 .1-.2 .1 .3 .1-.3 .1 0 .1 .1 .1 0 .1-.1 .1 .1 .1 .1 .1-.2 .1 .1 .1 0 .1 .1 .1-.2 .3 0 0 .4 .1-.4 .1 .1 .1-.1 .2 0 .1 .1 .1 .1 0-.2 .3 0 .1 .1 .1 0 .1-.1 .1 .1 .1 .1 .1 0 .1 .1 .1-.3 .1 0 .1 .1 .1 0 .1-.1 .2 0 .1 .1 .1-.1 .1 .1 .1 .3 0-.3 .1-.1 .1 0 .1 .1 .1 .1 .1-.1 .1-.1 .2 0 .1 .2 .1-.2 .1 .2 .1-.1 .1 0 .1-.1 .1 .2 .1-.1 .1 0 .1-.1 .1 .2 .1 .1 .1-.2 0-.1 .1 .1 .1-.1 .1 .1 .2 0 .1 .2 .1-.1 .1 0 .1-.2 .1 .3 .1 0 .1-.1 .1-.1 .1 .1 .1 .1 0-.1 .1-.1 .1 0 .1 .2 .1-.2 .1 0 .1 .3 .1-.1 .1-.1 .1-.1 .1 0 .1 .1 .1-.2 .1 .1 .1 0 0-.1 .1 0 .1 .3 .1-.1 .1 .2 .1-.2 .1-.1 .1 .1 0-.2 .1 .3 .1-.3 .1 .2 .1-.2 .1 .3 .1-.1 .1-.2 0 .3 .1 0 .1-.3 .1 .1 .1 .1 .1-.1 .1 .3 .1-.2 0 .2 .1-.2 .1-.2 .1 .3 .1-.1 .1-.1 .1 .3 .1 0 0-.2 .1-.2 .1 0 .1 .7 .1-.7 .1 .6 .1-.4 .1 0 0 .5 .1-.3 .1 .6 .1-.7 .2 0 .1 .2 .1 0 0-.2 .1 0 .1-.1 .1-.1 .1 .1 .1 .1 .1 .2 .1-.5 0 .5 .1 .2 .1-.6 .1 .8 .1-.5 .1-.4 .1 .4 .1 .2 0-.2 .1 .1 .1-.2 .4 0 .1 1.1 0-.7 .1-.4 .1 .6 .1-.6 .1 .6 .1-.4 .1-.4 .1 .4 0-.3 .1 .5 .1-.3 .1 .3 .1-.4 .1 1.1 .1-1 .1 .8 0-.5 .1-.1 .1 0 .1 .2 .1-.5 .1 .1 .1 0 .1 .8 .1-.2 0-.3 .1-.3 .1 .2 .1 .7 .1 .1 .1-.9 .1 1.3 .1-1.2 0 .6 .1-.7 .1 1.7 .1-1.4 .1 .4 .1-.4 .1 .1 .1-.1 0 .5 .1-.5 .1 .6 .1 0 .1-.5 .1 1 .1-1 .1-.1 .1 .5 .1 0 .1-.3 .1-.2 .1 0 .1 1 .1-1 0 .6 .1-.5 .1 .4 .1-.7 .1 .2 .1 1.9 .1-1.9 .1 .1 0 1.4 .1-1 .1-.4 .1 .3 .1 .9 .1-1.1 .1 1.3 .1-1.5 0 .2 .1 .4 .1 .9 .1-1.3 .1 1 .1 .3 .1 .7 .1-.8 0-1.4 .1 .4 .1-.4 .1 1 .1-.8 .1 .1 .1 .5 .1 .6 0-1.2 .1 2.2 .1-1.3 .1 .1 .1-.6 .1 .2 .1-.1 .1-.1 0 .1 .1 1.7 .1-1.1 .1-.3 .1-.4 .1 .3 .1-.7 .1 .3 0 1.3 .1-.7 .1 .9 .1-1.5 .1 .6 .1-.8 .1 .2 .1-.1 0 .5 .1 .7 .1-.9 .1 .3 .1 .6 .1-.5 .1-.5 .1 .9 0-.6 .1 1 .1 1.3 .1-2.4 .1 0 .1-.3 .1 .5 .1 .5 0 .4 .1-1.3 .1 1.2 .1-.3 .1 .7 .1-.5 .1-.5 .1 1.6 0-1.1 .1-.9 .1 0 .1 .1 .1 .8 .1-.9 .1 0 .1 .8 0-.3 .1 .6 .1 .8 .1-.7 .1 .9 .1-1.3 .1-.4 .1 .9 .1-1 0 1.4 .1 .1 .1-.6 .1 1.4 .1-.7 .1-.5 .1-.8 .1 .1 0 .1 .1-.3 .5-1.9-.7 .6 .8-.3-.1 2 .5 .4-.4-.5 .8 .5-.5 1.4 1-2-.4-.9 .7-.8 .1-.3 .5 .5-.2-.4 .8 1-1-.4 1.1 2.4-.7-2.3 .5 1.5-.3-.2 .5 .3-.6 0 .5 .7-.6-1.1 .3 2.9-.6 .2 .3-.2-.6-.4 .7-.1-1.1-.5 .5 .5-.9-3.3 .5 1.2-.9 1.5 .7-.1-1 .2 .5 1.3-.7-1 .5 2.3-1-1.8 .3 3.4-.1 33.9"/></defs>
<use href="#c7" stroke="#1616a8" stroke-width="0.95" fill="none"/>
<use href="#c7" stroke="#0000ff" stroke-width="0.5" fill="none"/>
<path d="M30.6 354.5v-2.3M30.6 299.1v2.3M59.77 354.5v-2.3M59.77 299.1v2.3M88.93 354.5v-2.3M88.93 299.1v2.3M118.1 354.5v-2.3M118.1 299.1v2.3M147.27 354.5v-2.3M147.27 299.1v2.3M176.43 354.5v-2.3M176.43 299.1v2.3M205.6 354.5v-2.3M205.6 299.1v2.3M30.6 354.5h2.3M205.6 354.5h-2.3M30.6 331.42h2.3M205.6 331.42h-2.3M30.6 308.33h2.3M205.6 308.33h-2.3" stroke="#505050" stroke-width="0.8" fill="none"/>
<rect x="30.6" y="299.1" width="175" height="55.4" stroke="#868686" stroke-width="1.2" fill="none"/>
<defs><path id="c8" d="M30.6 308.3l159 0 .1 7 .3-.3 0 .4 .6 .6-.4 .1 .8 .9-.8-.7 1.1-.3-.5 .8 .4-.1-.1 .4 .7 0-.3 .1 .6 1.3-.2 0 .6 2.8 .7 2.6-.4 .7 .7-1.1-.3 1.3 .3-.5-.3 .9 .6 .2-.1 .3 .7 1.6-.3-.8 1 8.4-.5 1.5 .7 .2-.6 1.4 .6 1.4-.2 .3 .4-.3 .1 3.5 .3-2.8-.2 3 .2-.5-.3 2.4 1-1.6-.8 .2 .8 6.3 .2 4.6"/></defs>
<use href="#c8" stroke="#1616a8" stroke-width="0.95" fill="none"/>
<use href="#c8" stroke="#0000ff" stroke-width="0.5" fill="none"/>
<path d="M261.5 354.5v-2.3M261.5 299.1v2.3M290.75 354.5v-2.3M290.75 299.1v2.3M320 354.5v-2.3M320 299.1v2.3M349.25 354.5v-2.3M349.25 299.1v2.3M378.5 354.5v-2.3M378.5 299.1v2.3M407.75 354.5v-2.3M407.75 299.1v2.3M437 354.5v-2.3M437 299.1v2.3M261.5 350.24h2.3M437 350.24h-2.3M261.5 328.93h2.3M437 328.93h-2.3M261.5 307.62h2.3M437 307.62h-2.3" stroke="#505050" stroke-width="0.8" fill="none"/>
<rect x="261.5" y="299.1" width="175.5" height="55.4" stroke="#868686" stroke-width="1.2" fill="none"/>
<defs><path id="c9" d="M261.5 336.2l.1 .4 .2-.5 .1 .2 .2-.2 .1-.6 .2 .1 .1-.7 .2 .7 .1-.1 .2 .5 .1-.4 .2-.4 .1 1.2 .1-1.8 .2 .8 .1-1 .2 .4 .1-.5 .2 1.2 .1-1.1 .2 .4 .1 1.3 .2-.5 .1-1.1 .2 .6 .1-.5 .1 1.2 .2-2.1 .1 .4 .2-.3 .1 .9 .2-.4 .1-.1 .2-.5 .1 .2 .2 .7 .1-2.6 .2 1.2 .1-.5 .2 1 .1-.2 .1 .8 .2 .1 .1-.7 .2 .6 .1-1.7 .2 .4 .1 .3 .2-.7 .1 .8 .2 1 .1-1.9 .2-.3 .1 .9 .1 .2 .2 .4 .1-2 .2 1.8 .1-1.5 .2 1.7 .1-.3 .2-.3 .1-.7 .2-.2 .1 .4 .2 1.1 .1 .2 .1-1.3 .2-.3 .1 .9 .2 .5 .1-.8 .2 1.3 .1-.3 .2-.2 .1 .5 .2-.4 .1-.8 .2-.3 .1 .4 .1 .5 .2-.5 .1 .8 .2-.6 .1-.3 .2-.5 .1 .7 .2 .7 .1-.9 .2 .3 .1-.4 .2 .8 .1 .5 .1-.4 .2-.3 .1 .1 .2 1.1 .1-1.9 .2 1.1 .1 .1 .2 .3 .1-.1 .2-1.1 .1-.9 .2 1.9 .1-1.2 .1 1.3 .2-.8 .1 .5 .2-1.3 .1 1.9 .2 .5 .1-1.4 .2-.4 .1 .7 .2 .5 .1-.5 .2-.4 .1 1.1 .1-1 .2 .1 .1-.9 .2 .9 .1-.7 .2 1.6 .1-.8 .2-.5 .1 .5 .2-.7 .1-.4 .2 1.8 .1-1.2 .2 1.3 .1-.6 .1-.4 .2-.1 .1 .4 .2-.1 .1 1 .2-.2 .1-.9 .2 .4 .1 .1 .2 .9 .1-1.4 .2 1.4 .1-1.9 .1-.3 .2 2 .1-.5 .2-.3 .1 1.2 .2-1.6 .1 2 .2-1.4 .1 .4 .2-.8 .1 1.1 .2-.4 .1-1.6 .1 1.6 .2-.5 .1 1.2 .2-.5 .1 .1 .2-.1 .1-.5 .2 .2 .1 0 .2-.6 .1 .3 .2 .3 .1 0 .1-.7 .2 1.1 .1 .3 .2-1 .1-.2 .2 .2 .1 .2 .2 0 .1-.6 .2 1.6 .1-.2 .2-.5 .1-.2 .1-.5 .2 .8 .1 0 .2 .1 .1-.5 .2-.1 .1 .1 .2-.2 .1-.2 .2 1 .1-.8 .2 2 .1-.9 .2-.6 .1-.6 .1 .7 .2-.1 .1 .6 .2-1.2 .1 1.4 .2 .2 .1-.1 .2 .3 .1-1.5 .2-.4 .1 .5 .2 .7 .1 .5 .1-.8 .2-.1 .1 1.7 .2-1.9 .1 1 .2 0 .1 .4 .2-1.5 .1 .1 .2 .9 .1 .1 .2-1.4 .1 2 .1-.7 .2 .8 .1-1.5 .2 1.7 .1-1.4 .2-.3 .1 2 .2-1.5 .1-.1 .2-.1 .1 .4 .2-.4 .1 1 .1-1.7 .2 1 .1 .3 .2 .1 .1-.5 .2 .3 .1-.9 .2 1.3 .1-.2 .2-.8 .1 .3 .2-.3 .1 .3 .1 .7 .2 .6 .1-1.5 .2 .2 .1-.3 .2 1 .1-.9 .2 .3 .1 .4 .2-.4 .1 1.3 .2-2.4 .1 2 .1 0 .2-1.6 .1 .8 .2-.5 .1 1 .2 0 .1-1.1 .2 .8 .1-.3 .2 .2 .1-1.6 .2 1.2 .1-.8 .1 .6 .2 1.3 .1-1 .2 0 .1-.8 .2 .5 .1 .3 .2 .8 .1-.4 .2-.6 .1 .9 .2 0 .1 .3 .2 0 .1-.5 .1 .2 .2-.2 .1-.2 .2 .6 .1 .5 .2-.7 .1-.5 .2 .8 .1-.7 .2 1.3 .1-1.2 .2 .9 .1-.6 .1 0 .2-1 .1 1.4 .2-1 .1 .4 .2-.4 .1 .7 .2-.9 .1 1.6 .2-1.2 .1 .1 .2 .2 .1-.7 .1 1.1 .2-1.1 .1 .6 .2 .8 .1-.8 .2-.5 .1-.3 .2 .1 .1 .6 .2 .7 .1-.3 .2 1 .1-2.1 .1 0 .2 .4 .1 .8 .2-.7 .1 1.4 .2-1.7 .1 .8 .2-.3 .1 1.2 .2-1.3 .1 1.5 .2-.2 .1-1.4 .1 .3 .2 1.3 .1-.9 .2 .6 .1-.5 .2-.4 .1-.7 .2 1.3 .1 .1 .2-.8 .1 .4 .2-.5 .1 1.2 .2-.7 .1-.8 .1 1.2 .2 .5 .1-1.5 .2 1 .1-1 .2 1.2 .1-.1 .2-1.1 .1 .9 .2 .8 .1 .1 .2-.8 .1 .3 .1-.2 .2-.6 .1-.3 .2 0 .1 1.1 .2-.3 .1 0 .2 .1 .1 .7 .2-.8 .1-1.3 .2 1.8 .1-.1 .1-.7 .2 .1 .1 1 .2-1.7 .1 0 .2 .7 .1-.7 .2 1.3 .1-1 .2 1.8 .1-1.1 .2 .2 .1 .2 .1-.9 .2 .2 .1-1 .2 .7 .1 1.6 .2-1.1 .1 .5 .2-.5 .1-.8 .2 .4 .1 .1 .2-.1 .1 .2 .1-.2 .2 0 .1 .7 .2-.1 .1 .3 .2-.6 .1 .1 .2-.4 .1 0 .2-.8 .1 1.1 .2 .4 .1 1.3 .1-2.3 .2 1.2 .1-.9 .2-.3 .1 1.1 .2-1 .1 1.9 .2-1.8 .1 .5 .2 .7 .1-1.3 .2 0 .1-.4 .1 1.5 .2-1.4 .1 2.1 .2-1.3 .1 .1 .2 .4 .1-.9 .2-.1 .1 1.5 .2-1 .1 .5 .2-.9 .1 .8 .2-1.1 .1 1.6 .1-1.6 .2-.1 .1 .9 .2 0 .1 1 .2-1.2 .1 .4 .2 .3 .1-.7 .2-.3 .1 .8 .2-.6 .1 .5 .1-.9 .2 1.6 .1-.8 .2 1.3 .1-1.6 .2 .1 .1-.7 .2 1.5 .1-.2 .2 .3 .1-1.4 .2-.5 .1 1.7 .1-.3 .2 .1 .1 .2 .2-.9 .1 .3 .2 .2 .1-.6 .2 .1 .1 1.4 .2-1.7 .1 1.8 .2-1.6 .1 1 .1-.8 .2 1.1 .1-1.1 .2-.2 .1-.1 .2 1.2 .1-.4 .2 .3 .1-.4 .2 0 .1 1 .2-1.5 .1 .2 .1 .8 .2-.2 .1 .2 .2 .4 .1-1 .2 .3 .1 0 .2-.7 .1 .6 .2-.5 .1 .8 .2-1.1 .1 2 .2-.6 .1-.9 .1 .3 .2 .3 .1 .1 .2 .1 .1-.8 .2 .5 .1 .6 .2-.9 .1-.2 .2 0 .1-.1 .2 0 .1 .6 .1 .2 .2-1 .1-.4 .2 1.3 .1-.8 .2 .3 .1 1.5 .2-.4 .1-.3 .2 .1 .1-1.7 .2 1.5 .1-.7 .1 .2 .2-.7 .1 1.6 .2-1.5 .1 1.4 .2-.1 .1-.6 .2-.6 .1 1 .2-.9 .1 .5 .2 .6 .1 0 .1-.2 .2-1.1 .1 2.2 .2-1.6 .1 .7 .2 .1 .1-.4 .2-.4 .1 1.6 .2-1.7 .1 .1 .2-.6 .1 2.1 .1-1.9 .2 1.2 .1 .5 .2-1.3 .1 .3 .2 1.3 .1 .3 .2-.5 .1-.7 .2-1 .1 .3 .2 .7 .1 .1 .1-.5 .2 .7 .1-.2 .2-.8 .1 .9 .2-1.1 .1 .8 .2-1 .1 .5 .2 0 .1 .6 .2 .4 .1-.1 .1-.9 .2 .3 .1-.4 .2 .3 .1 .1 .2 .6 .1 .2 .2-.6 .1 .2 .2-.6 .1 .4 .2 .3 .1 .8 .2-.5 .1-1.9 .1 1 .2 .3 .1-.1 .2 .4 .1-.3 .2 .9 .1-1 .2-.6 .1 .5 .2 1.2 .1-1.4 .2 .3 .1 .1 .1-.1 .2 .9 .1-1.5 .2 1.4 .1-.9 .2 .1 .1 1 .2-.8 .1 1 .2 0 .1-.7 .2-1.3 .1 .7 .1 1.1 .2-.9 .1-.9 .2 1.9 .1-.8 .2 .3 .1-.4 .2 0 .1 .3 .2-.1 .1-.2 .2-.3 .1-.1 .1 .4 .2-.1 .1-.6 .2 .5 .1 .8 .2 .2 .1-.4 .2-.8 .1 .3 .2 .4 .1 .1 .2-.1 .1 .4 .1 .3 .2-.4 .1 .9 .2-.9 .1 0 .2-.3 .1 0 .2-.3 .1-.2 .2 1.1 .1-.1 .2-.5 .1 .4 .2-.8 .1-.1 .1 1.4 .2-1.3 .1 1.4 .2-.6 .1-.6 .2-.4 .1 0 .2 1.6 .1-.4 .2-1 .1 .3 .2-.1 .1 .7 .1-1.2 .2-.1 .1 1 .2-.8 .1 .8 .2 .5 .1-.5 .2-.1 .1-.3 .2 .5 .1 .1 .2-.6 .1 .7 .1-.1 .2 .1 .1 .2 .2-.4 .1 .9 .2-.7 .1-1 .2 1 .1-.4 .2 1 .1-1.1 .2-.3 .1 .2 .1 1.4 .2-.3 .1-1 .2 .5 .1-.6 .2 1 .1-1.2 .2 .8 .1 .9 .2-1.5 .1 1.5 .2-1 .1 .9 .1-1 .2 .4 .1-.3 .2-1.4 .1 1.3 .2 .6 .1-.5 .2 .9 .1-.4 .2-.7 .1-.3 .2 1 .1-1.8 .1 1.7 .2-.7 .1 .5 .2-.4 .1 .4 .2-.2 .1-.2 .2 .3 .1-.1 .2 .2 .1 .1 .2-.1 .1-.2 .1 .1 .2-.3 .1 .5 .2-1.4 .1 1.3 .2 .1 .1 .5 .2 0 .1-.4 .2-1.3 .1 1.3 .2 0 .1-.9 .2 .7 .1-.9 .1 1.9 .2-1.4 .1 0 .2 1.1 .1-.8 .2 .7 .1-.8 .2-.3 .1 .9 .2 .6 .1 .8 .2-.7 .1-.8 .1-.2 .2 1.1 .1-1.3 .2-1.4 .1 .7 .2-.5 .1 .7 .2-.5 .1 1.4 .2-.9 .1 1.1 .2 .8 .1-1.1 .1 .2 .2-.2 .1-.2 .2 .4 .1-.2 .2 1.1 .1-.8 .2 .3 .1-.3 .2-.7 .1 1.2 .2-1.3 .1 0 .1 1.7 .2-.9 .1-.8 .2 .6 .1 .2 .2 .4 .1 0 .2-.9 .1 .3 .2-.1 .1 .2 .2 .6 .1-1.7 .1 1.4 .2-.9 .1 .7 .2-1 .1 .9 .2 .9 .1-.9 .2 .1 .1-.9 .2 1.8 .1-.1 .2 .1 .1-1.5 .2 1.3 .1-1.1 .1 .3 .2 1.4 .1-1.6 .2-.1 .1 1.7 .2-.5 .1-.8 .2 .3 .1 0 .2-.2 .1-.3 .2 1.1 .1-.1 .1-1.4 .2 .5 .1 1.2 .2-2.7 .1 1.3 .2 1.4 .1-.1 .2-1.2 .1-.5 .2 1.2 .1-.2 .2 .1 .1 1.1 .1-1.8 .2-.1 .1-.2 .2 1.1 .1 .3 .2-.8 .1-.9 .2 1.1 .1-.2 .2 .1 .1 1.3 .2-1.5 .1-.3 .1 1.2 .2 .8 .1-1.1 .2-.6 .1 .1 .2-.4 .1 1.4 .2-1.1 .1 .7 .2 .2 .1 .5 .2-1.9 .1 1.3 .1-.2 .2 .9 .1-1.6 .2 .4 .1 .3 .2-.7 .1 .9 .2-.2 .1 .3 .2-.1 .1-.6 .2 .8 .1-2.1 .1 1.7 .2 1 .1-1.4 .2 .7 .1-.3 .2-.4 .1 1 .2-1 .1 1.5 .2-2.4 .1 .8 .2 .3 .1 .5 .1 .1 .2-1.1 .1 .8 .2 .4 .1 0 .2-.1 .1-.2 .2-.8 .1 .5 .2 .5 .1-.3 .2 .7 .1 0 .2 .3 .1-.7 .1-.5 .2 0 .1-.2 .2-.4 .1 1.3 .2-1.2 .1-.6 .2 .3 .1 .6 .2-.6 .1-.2 .2 1.3 .1-.3 .1 .2 .2 1 .1-.5 .2-1.2 .1 .4 .2 .2 .1 .4 .2 .1 .1-1.9 .2 1.2 .1 .4 .2-.8 .1-.1 .1 1.3 .2 .4 .1-1 .2-.2 .1-.2 .2 .4 .1 .6 .2-1 .1 .2 .2-.1 .1 .8 .2-1.1 .1 1 .1-.9 .2 .6 .1-.3 .2 .5 .1-.6 .2-.4 .1 1.6 .2-1.2 .1 1 .2-1 .1 .6 .2 .4 .1-.5 .1-.2 .2-.4 .1 1.2 .2-.3 .1-1.6 .2 1.2 .1-.5 .2 1.4 .1-2.2 .2 1.8 .1-.2 .2-1 .1-.2 .2 1 .1-.8 .1 1 .2-.6 .1 .1 .2 .5 .1-.2 .2-.2 .1 .7 .2 .1 .1-1.4 .2-.2 .1 .7 .3 0 .1-.2 .2 1.1 .1-.3 .2-.9 .1 .5 .2-.4 .1-.7 .2 2.3 .1-.9 .2 .7 .1-1.1 .2-.7 .1 1 .1-.2 .2-.4 .1 1.2 .2-1.4 .1 1.2 .2 .4 .1-1.2 .2-1 .1 1.8 .2-.9 .1 .9 .2-1.5 .1 1.3 .1-.9 .2 .4 .1 .1 .2-.5 .1 .6 .2-.3 .1 .9 .2-.3 .1 0 .2-.8 .1 2 .2-1.5 .1 1.1 .1-1.9 .2 .9 .1-.2 .2-.2 .1-.5 .2 1 .1 0 .2-.1 .1-.1 .2-.3 .1-.1 .2 .3 .1 .5 .1-.7 .2-.2 .1 .9 .2-.5 .1 .3 .2 .2 .1-.4 .2-.9 .1 .7 .2-.6 .1 1.7 .2-1.3 .1 .4 .1 .8 .2 .2 .1-1.1 .3-2.1 .3-12.8 .3-10.7 .3-4.2 .5-1.8 .5-.4 .6 .4 .6 .9 .6 1.7 .6 3 .6 3.8 .5 3.9 .5 1.7 .4 1.6-.3-1.5 .6 1.1 0 .7 .3 1-.2 .5 .4-1-.5 1.6 .7 .4-.5 2.2 .7-.2-.3 1.5 .6 6.6 .2 8.5 .2 3.8"/></defs>
<use href="#c9" stroke="#1616a8" stroke-width="0.95" fill="none"/>
<use href="#c9" stroke="#0000ff" stroke-width="0.5" fill="none"/>
<path d="M492.4 354.5v-2.3M492.4 299.1v2.3M521.6 354.5v-2.3M521.6 299.1v2.3M550.8 354.5v-2.3M550.8 299.1v2.3M580 354.5v-2.3M580 299.1v2.3M609.2 354.5v-2.3M609.2 299.1v2.3M638.4 354.5v-2.3M638.4 299.1v2.3M667.6 354.5v-2.3M667.6 299.1v2.3M492.4 354.5h2.3M667.6 354.5h-2.3M492.4 326.8h2.3M667.6 326.8h-2.3M492.4 299.1h2.3M667.6 299.1h-2.3" stroke="#505050" stroke-width="0.8" fill="none"/>
<rect x="492.4" y="299.1" width="175.2" height="55.4" stroke="#868686" stroke-width="1.2" fill="none"/>
<defs><path id="c10" d="M492.4 351.2l.1-.7 .2 1.3 .1-.7 .2-1.1 .1 .4 .2-.1 .1 .9 .2-.4 .1-1 .2 1.9 .1-1.7 .2 .6 .1-.2 .1-1.9 .2 1 .1 .5 .2-.9 .1 1.1 .2-.8 .1-.4 .2 1.2 .1-1.2 .2 1.2 .1-.3 .1-1.5 .2 1.8 .1-1.5 .2-.3 .1-.6 .2 .8 .1-.6 .2 1.5 .1-1.3 .2 .8 .1-.7 .2 .4 .1-.3 .1 .2 .2 .7 .1-.1 .2-.3 .1 .9 .2 0 .1-3 .2 2.7 .1-1.1 .2-.4 .1-.4 .2-.4 .1 .6 .1 .6 .2-.9 .1-.9 .2 1.1 .1-.6 .2-.4 .1 1.4 .2-.5 .1-.4 .2-.8 .1 1.1 .2-.1 .1 .7 .1-.3 .2-.8 .1 .1 .2 1.2 .1-1.4 .2 .5 .1 0 .2 .1 .1 .2 .2 .1 .1-1.1 .2 .3 .1 .4 .1 .1 .2-.1 .1 .5 .2 .6 .1-.6 .2 0 .1 1.2 .2-.9 .1-.3 .2-1.6 .1 2.6 .1 0 .2-1.1 .1 .7 .2-1.1 .1 1.9 .2-1.3 .1 .6 .2-1.7 .1 .9 .2 0 .1-.1 .2 .2 .1 1 .1-.4 .2-.1 .1-.5 .2-.2 .1 .3 .2 .2 .1 1.6 .2-1.2 .1-.6 .2 .3 .1 .3 .2-1.1 .1 .6 .1 .5 .2-1.4 .1 2.1 .2-1 .1-.1 .2 1.9 .1-1.5 .2 .3 .1 .1 .2-1 .1 1 .1-.4 .2 .2 .1 1 .2-2.4 .1 1.2 .2-.6 .1 .1 .2 .2 .1-1.2 .2 .6 .1 .9 .2 0 .1 .9 .1-.6 .2-2.8 .1 3.5 .2-1.4 .1 .6 .2 .7 .1-2.6 .2 1.4 .1 .7 .2-1.3 .1 2 .2-.5 .1-.5 .1 .5 .2-.5 .1 .1 .2-1.5 .1 .6 .2 .8 .1 .3 .2-.3 .1 .6 .2-2.6 .1 2.4 .2-.6 .1 .7 .1 .4 .2-1.1 .1 .8 .2-.7 .1-.2 .2 .5 .1 .2 .2 .3 .1 .1 .2-3 .1 4 .1-1.3 .2-1 .1 .2 .2 .1 .1-.6 .2 .9 .1 0 .2 .7 .1-1.2 .2 1.3 .1-.7 .2-.5 .1 .3 .1-.5 .2 1 .1 1.4 .2-1.2 .1-.4 .2 .2 .1 .4 .2-.2 .1 .2 .2-1 .1 1.4 .2-.2 .1 .4 .1-.6 .2 0 .1-1.5 .2 1.4 .1-.8 .2-.3 .1 2.1 .2-.4 .1 .2 .2-1.2 .1 .1 .2 1.3 .1 .2 .1-1.6 .2 .6 .1 .4 .2-.3 .1-.3 .2-.3 .1-1.4 .2 2.4 .1-.7 .2-1.3 .1 .7 .1 0 .2 1.1 .1-.7 .2 .9 .1-1.1 .2-.2 .1 .5 .2 .2 .1-.2 .2-.7 .1 .5 .2-.3 .1-1 .1 1.5 .2-.1 .1 .5 .2 .1 .1 1.3 .2-2 .1-.1 .2 .4 .1 0 .2-1.3 .1 2.2 .2-2.3 .1 1.8 .1 0 .2 .3 .1-.2 .2-1.2 .1 .3 .2 1.4 .1-.9 .2 0 .1-2.2 .2 2.2 .1 .4 .2-1 .1 1.4 .1-.5 .2 .2 .1-.9 .2 .6 .1-.7 .2 .6 .1 0 .2-.8 .1 1.5 .2-1 .1 .3 .2 1.2 .1-1.3 .1-.2 .2 .5 .1-.8 .2 1.8 .1-1.3 .2 .1 .1-.5 .2 1.2 .1 .2 .2-.6 .1 .9 .1-1 .2-.6 .1 0 .2 .6 .1 .8 .2 0 .1-1.4 .2 .3 .1 .6 .2 0 .1 .6 .2-.3 .1 .3 .1-2.2 .2 1.8 .1-.5 .2 1.4 .1-1.9 .2 1 .1 .5 .2-.4 .1-.7 .2 0 .1 .9 .2 0 .1-.4 .1 0 .2-.1 .1-.1 .2 .2 .1 1.9 .2-1.9 .1-.3 .2 1.2 .1-.7 .2 .8 .1-.7 .1 0 .2-1.6 .1 .4 .2 .1 .1 1 .2-.1 .1 0 .2-1.6 .1 .1 .2 2.8 .1-1.3 .2 1.2 .1-2.1 .1 1.5 .2-.7 .1 .7 .2-.7 .1 0 .2-.1 .1-.1 .2 .7 .1-.1 .2-2.9 .1 2.7 .2 .9 .1-1.2 .1 .9 .2-.3 .1-1.7 .2 .3 .1 1 .2 .5 .1-1.7 .2 3 .1-.9 .2-.5 .1-.7 .2 1.9 .1-1.2 .1 0 .2-1.4 .1 1.9 .2-3.2 .1 1.2 .2 1.3 .1-.4 .2 .3 .1-.3 .2-1.2 .1 .8 .2 .1 .1 .4 .1-.8 .2 1.8 .1-.2 .2-1.5 .1 .8 .2 .8 .1-1.5 .2 1.5 .1-1.7 .2 .5 .1 .5 .1-.7 .2 1.3 .1-.1 .2-1 .1 .9 .2-.9 .1 .2 .2 .7 .1 1.2 .2-1.4 .1-.8 .2 1.5 .1-1.3 .1 .7 .2 .5 .1-.6 .2 1.1 .1-1.6 .2-.9 .1 .9 .2 .5 .1 .5 .2-.2 .1-1.6 .2 .9 .1 .4 .1-.6 .2-.1 .1 1.5 .2-3.7 .1 3.9 .2-.8 .1-.6 .2-.5 .1 1.1 .2 .2 .1 0 .1-.7 .2 .5 .1-1.7 .2 1 .1 1 .2-1.5 .1 1.1 .2 1.1 .1-1.8 .2 .3 .1 .4 .2-.1 .1 .1 .1 1 .2 .2 .1-1.1 .2-.3 .1 1.1 .2-3.2 .1-.2 .2 3.4 .1-.1 .2-.2 .1 .4 .2-.8 .1 .8 .1-1.4 .2 .7 .1-.1 .2-1.3 .1 1.9 .2-1 .1 1.2 .2-.6 .1 .5 .2-.2 .1-1.1 .2 1 .1 .5 .1-.6 .2-.2 .1-.2 .2 .1 .1 1.7 .2-1.7 .1-1.7 .2 1.8 .1 .1 .2-.5 .1 1.8 .2-.9 .1-1.2 .1 .4 .2 .8 .1-.2 .2 .3 .1-1.1 .2-.2 .1 .2 .2-.1 .1 .9 .2-.7 .1-.3 .1 .7 .2-.7 .1 .8 .2-.6 .1 .9 .2-.6 .1 0 .2 .6 .1-.1 .2 .4 .1-1.3 .2 1 .1-.4 .1-1.3 .2 2.4 .1-.3 .2-.4 .1-.3 .2 .2 .1-1.4 .2 1.7 .1 .2 .2-.9 .1 .4 .2 0 .1-.1 .1-1.1 .2 .6 .1 1.5 .2-2.6 .1 .9 .2 .3 .1-.5 .2 1.3 .1-.4 .2-.8 .1 .6 .1 .1 .2-.4 .1 .7 .2 .6 .1 .2 .2-.9 .1-.3 .2 1.2 .1-1.3 .2-.3 .1-.4 .2 1.2 .1 .9 .1-.6 .2 .7 .1-.4 .2 0 .1-1.7 .2 1.7 .1-.7 .2-.3 .1 1 .2-2.5 .1 2.2 .2 .9 .1-1 .1 .5 .2-.6 .1 .1 .2-.8 .1 .4 .2-1.5 .1 2.4 .2-1.8 .1-.3 .2-.8 .1 .6 .2 1 .1-.7 .1 0 .2 1 .1 .6 .2-1 .1 .8 .2-.6 .1 0 .2 1.1 .1-.7 .2-.3 .1 1.1 .2 .6 .1-.7 .1-.8 .2-.1 .1 .4 .2-.4 .1 0 .2 .9 .1-.5 .2 .3 .1-.7 .2-.3 .1 .2 .1 .9 .2-.8 .1-.1 .2 1.4 .1-.9 .2 .5 .1-.7 .2-.6 .1 1.4 .2 .2 .1 .4 .2-.9 .1-.2 .1-1.2 .2 2.1 .1-1 .2-.3 .1-.3 .2 1 .1-.6 .2 1.4 .1-.7 .2-.7 .1 .8 .2-.3 .1-.8 .1 1.3 .3 0 .2-1.1 .1 .1 .2 1.1 .1-.3 .2-.4 .1-.4 .2 0 .1 .4 .1 .2 .2 .5 .1-.9 .2-.5 .1 .6 .2 .3 .1-1 .2 .5 .1 1.4 .2 1.3 .1-1.8 .2-.3 .1-.9 .1 .3 .2 .7 .1 .1 .2-.7 .1 1 .2-.7 .1-.7 .2 .7 .1-.3 .2 1 .1-.1 .2-.4 .1 1 .1-1.1 .2 0 .1-1.2 .2 .8 .1 1.5 .2-1.7 .1-1.8 .2 3.5 .1-1.6 .2 .4 .1-.1 .2 1 .1-.4 .1-1.3 .2 .2 .1 .2 .2 .8 .1-1.2 .2 1.6 .1-.2 .2-1 .1 1.2 .2-.8 .1 1 .2 .1 .1-1.5 .1 1.2 .2 0 .1-1 .2 .3 .1-.6 .2 .1 .1 .6 .2 .3 .1-.1 .2-.2 .1-.5 .1 .6 .2 0 .1-.6 .2 .4 .1 .3 .2 .1 .1-1.9 .2 1.2 .1 1.3 .2-1.2 .1 .1 .2-.5 .1 .7 .1 .6 .2 .2 .1-.8 .2 .3 .1 0 .2-.8 .1 .7 .2-.5 .1 0 .2-.2 .1 0 .2-.5 .1 1.9 .1-.2 .2-1 .1-.2 .2-.4 .1 1.2 .2 .7 .1-.8 .2 0 .1 .1 .2-.4 .1 .3 .1-.3 .2 .3 .1-.8 .2-.8 .1 1.4 .2 .1 .1-.7 .2 1.4 .1 .1 .2-2 .1 2.3 .2-.3 .1-1.6 .1-.2 .2 1.9 .1-.8 .2-.3 .1 1.2 .2-1.2 .1 .4 .2-1.5 .1 2 .2-.6 .1-.1 .2 .3 .1-.4 .1 0 .2 .3 .1-.7 .2 .7 .1 .5 .2-.1 .1-1.9 .2 .4 .1 1 .2-.2 .1 .2 .2-1.7 .1 .8 .1 1.3 .2-1.7 .1 1.4 .2-.2 .1 .3 .2-1.2 .1 1.3 .2-.9 .1-.4 .2 1.5 .1 0 .2-1.5 .1 .8 .1 1 .2-1.8 .1-.2 .2 .7 .1-.1 .2-.6 .1 .7 .2 1 .1-.3 .2-1.1 .1 1.2 .1 .2 .2-.5 .1-.5 .2 .5 .1-.1 .2-.7 .1 1.4 .2-.5 .1 .2 .2 .4 .1-.4 .2-.5 .1-.2 .1 .4 .2 .1 .1 .1 .2-.6 .1 .3 .2-.3 .1 .4 .2-.2 .1-.1 .2 .8 .1-.2 .2-.9 .1 1.3 .1 .1 .2 .6 .1-.2 .2-1.7 .1 1.1 .2 .1 .1 .2 .2-1.1 .1 0 .2 .1 .1 1.1 .1-1.3 .2 .6 .1 .8 .2-1.9 .1 .6 .2 .5 .1 1.4 .2-1.1 .1 .2 .2-1.7 .1 1 .2 0 .1-.5 .1 .3 .2 .2 .1 0 .2-.2 .1 .2 .2-.2 .1 .2 .2 1 .1-1.4 .2 .6 .1 .4 .2-.8 .1 .3 .1-.1 .2 .4 .1-.3 .2 .1 .1-.6 .2 .6 .1-.2 .2 .4 .1-.2 .2 .8 .1-1.3 .2 .2 .1 .5 .1 .2 .2 .2 .1-.7 .2-.4 .1 1.5 .2-.5 .1-.3 .2-.7 .1 1 .2 .3 .1-.6 .2-.4 .1 .2 .1 .4 .2 .1 .1-1.2 .2 1.2 .1-.6 .2-.3 .1 .9 .2-.7 .1-.2 .2 .5 .1 .3 .1-.7 .2 .5 .1 .8 .2-.8 .1 .2 .2-.9 .1 0 .2 .5 .1-.3 .2 1.3 .1-1 .2 .4 .1-.3 .1-.7 .2 .8 .1-.1 .2 .8 .1-.2 .2-.5 .1 .5 .2-.6 .1 .9 .2-1 .1 .4 .2-.1 .1-.3 .1 0 .2 .9 .1-.7 .2 .3 .1-.4 .2 .3 .1-.2 .2 0 .1-.4 .2 .7 .1 .7 .1-.6 .2 .5 .1-.5 .2 .7 .1-.7 .2-.2 .1-.1 .2 .4 .1 .2 .2-.3 .1 .2 .2 .5 .1-.5 .1-.3 .2 0 .1-.2 .2 .3 .1 0 .2-.4 .1 .6 .2 0 .1-.3 .2 .2 .1-.4 .2 .1 .1 .4 .1 .3 .2 .1 .1-.1 .2-.6 .1 .2 .2 .4 .1-.8 .2 .2 .1 .3 .2-.9 .1 1.6 .2-1.1 .1 .8 .1-.8 .2 0 .1 .3 .2 .4 .1-.6 .2 .5 .1-.7 .2 .4 .1-.1 .2 .1 .1-.6 .2 .7 .1 .2 .1-.5 .2 1.1 .1-.4 .2-1.1 .1 .4 .2 .4 .1-2.2 .2 1.7 .1 .5 .2-.1 .1-.6 .1 .4 .2 .2 .1 .3 .2-.3 .1 .3 .2-.5 .1 .6 .2-.1 .1 .2 .2-.6 .1 .2 .2-.1 .1-.1 .1 .1 .2 0 .1 .6 .2-.7 .1 .1 .2-.4 .1 .6 .2-.4 .1 .7 .2-.3 .1-.2 .2-.2 .1-.4 .1 .4 .2 .5 .1-.8 .2 .5 .1-.1 .2 .1 .1 0 .2 .4 .1-.8 .2 .3 .1 .1 .2 .1 .1-.5 .1 .9 .2-.8 .1-.3 .2 .6 .1-.2 .2 .2 .1-.3 .2 .4 .1 .2 .2 .3 .1-.3 .1-.4 .2 .1 .1 .4 .2-.3 .1-.4 .2-.3 .1 .6 .2 .8 .1-.8 .2-.3 .1 0 .2 .3 .1-.2 .1 .2 .2-.7 .1 1.3 .2-.5 .1 .2 .3 0 .2 .1 .1 .4 .2-1.6 .1 1.4 .2-.4 .1 .2 .1 .1 .2-.5 .1 .1 .2-.4 .1 .6 .2-.3 .1 .7 .2-.8 .1-.3 .2 .3 .1-.4 .2 .6 .1-.1 .1 .2 .5-1.3 .7-17.2 .7-14.9 1-3.4-.7-3.2 .9-.3-.7 .8 .6-.8-.3-.9 .8-.7-.4 .2 .4 .5-.2 .2 .7-.7-.4 .4 1.3-4.3 .8-3.9 .9-3.9 .6-1.1 .6 0 .6 .6 .3 1.6"/></defs>
<use href="#c10" stroke="#1616a8" stroke-width="0.95" fill="none"/>
<use href="#c10" stroke="#0000ff" stroke-width="0.5" fill="none"/>
</g>
<g filter="url(#bt)">
<text x="30.6" y="77.95" text-anchor="middle" class="k" textLength="4.51" lengthAdjust="spacingAndGlyphs">0</text>
<text x="59.77" y="77.95" text-anchor="middle" class="k" textLength="13.53" lengthAdjust="spacingAndGlyphs">500</text>
<text x="88.93" y="77.95" text-anchor="middle" class="k" textLength="18.04" lengthAdjust="spacingAndGlyphs">1000</text>
<text x="118.1" y="77.95" text-anchor="middle" class="k" textLength="18.04" lengthAdjust="spacingAndGlyphs">1500</text>
<text x="147.27" y="77.95" text-anchor="middle" class="k" textLength="18.04" lengthAdjust="spacingAndGlyphs">2000</text>
<text x="176.43" y="77.95" text-anchor="middle" class="k" textLength="18.04" lengthAdjust="spacingAndGlyphs">2500</text>
<text x="205.6" y="77.95" text-anchor="middle" class="k" textLength="18.04" lengthAdjust="spacingAndGlyphs">3000</text>
<text x="27.2" y="69.85" text-anchor="end" class="k" textLength="4.51" lengthAdjust="spacingAndGlyphs">0</text>
<text x="27.2" y="46.79" text-anchor="end" class="k" textLength="11.28" lengthAdjust="spacingAndGlyphs">0.5</text>
<text x="27.2" y="23.72" text-anchor="end" class="k" textLength="4.51" lengthAdjust="spacingAndGlyphs">1</text>
<text x="118.1" y="7.9" text-anchor="middle" font-size="8.0" textLength="130.3" lengthAdjust="spacingAndGlyphs">LMD-SVD-FCM-bear11-Normal</text>
<text transform="translate(11.8 39.07) rotate(-90)" x="0" y="0" text-anchor="middle" font-size="10.2" textLength="12.8" lengthAdjust="spacingAndGlyphs">CV</text>
<text x="261.5" y="77.95" text-anchor="middle" class="k" textLength="4.51" lengthAdjust="spacingAndGlyphs">0</text>
<text x="290.75" y="77.95" text-anchor="middle" class="k" textLength="13.53" lengthAdjust="spacingAndGlyphs">500</text>
<text x="320" y="77.95" text-anchor="middle" class="k" textLength="18.04" lengthAdjust="spacingAndGlyphs">1000</text>
<text x="349.25" y="77.95" text-anchor="middle" class="k" textLength="18.04" lengthAdjust="spacingAndGlyphs">1500</text>
<text x="378.5" y="77.95" text-anchor="middle" class="k" textLength="18.04" lengthAdjust="spacingAndGlyphs">2000</text>
<text x="407.75" y="77.95" text-anchor="middle" class="k" textLength="18.04" lengthAdjust="spacingAndGlyphs">2500</text>
<text x="437" y="77.95" text-anchor="middle" class="k" textLength="18.04" lengthAdjust="spacingAndGlyphs">3000</text>
<text x="258.1" y="65.59" text-anchor="end" class="k" textLength="4.51" lengthAdjust="spacingAndGlyphs">0</text>
<text x="258.1" y="44.3" text-anchor="end" class="k" textLength="11.28" lengthAdjust="spacingAndGlyphs">0.5</text>
<text x="258.1" y="23.02" text-anchor="end" class="k" textLength="4.51" lengthAdjust="spacingAndGlyphs">1</text>
<text x="349.25" y="7.9" text-anchor="middle" font-size="8.0" textLength="123.8" lengthAdjust="spacingAndGlyphs">LMD-SVD-FCM-bear11-Slight</text>
<text x="492.4" y="77.95" text-anchor="middle" class="k" textLength="4.51" lengthAdjust="spacingAndGlyphs">0</text>
<text x="521.6" y="77.95" text-anchor="middle" class="k" textLength="13.53" lengthAdjust="spacingAndGlyphs">500</text>
<text x="550.8" y="77.95" text-anchor="middle" class="k" textLength="18.04" lengthAdjust="spacingAndGlyphs">1000</text>
<text x="580" y="77.95" text-anchor="middle" class="k" textLength="18.04" lengthAdjust="spacingAndGlyphs">1500</text>
<text x="609.2" y="77.95" text-anchor="middle" class="k" textLength="18.04" lengthAdjust="spacingAndGlyphs">2000</text>
<text x="638.4" y="77.95" text-anchor="middle" class="k" textLength="18.04" lengthAdjust="spacingAndGlyphs">2500</text>
<text x="667.6" y="77.95" text-anchor="middle" class="k" textLength="18.04" lengthAdjust="spacingAndGlyphs">3000</text>
<text x="489" y="69.85" text-anchor="end" class="k" textLength="4.51" lengthAdjust="spacingAndGlyphs">0</text>
<text x="489" y="42.17" text-anchor="end" class="k" textLength="11.28" lengthAdjust="spacingAndGlyphs">0.5</text>
<text x="489" y="14.5" text-anchor="end" class="k" textLength="4.51" lengthAdjust="spacingAndGlyphs">1</text>
<text x="580" y="7.9" text-anchor="middle" font-size="8.0" textLength="126.6" lengthAdjust="spacingAndGlyphs">LMD-SVD-FCM-bear11-Severe</text>
<text x="30.6" y="174" text-anchor="middle" class="k" textLength="4.51" lengthAdjust="spacingAndGlyphs">0</text>
<text x="65.6" y="174" text-anchor="middle" class="k" textLength="13.53" lengthAdjust="spacingAndGlyphs">200</text>
<text x="100.6" y="174" text-anchor="middle" class="k" textLength="13.53" lengthAdjust="spacingAndGlyphs">400</text>
<text x="135.6" y="174" text-anchor="middle" class="k" textLength="13.53" lengthAdjust="spacingAndGlyphs">600</text>
<text x="170.6" y="174" text-anchor="middle" class="k" textLength="13.53" lengthAdjust="spacingAndGlyphs">800</text>
<text x="205.6" y="174" text-anchor="middle" class="k" textLength="18.04" lengthAdjust="spacingAndGlyphs">1000</text>
<text x="27.2" y="161.62" text-anchor="end" class="k" textLength="4.51" lengthAdjust="spacingAndGlyphs">0</text>
<text x="27.2" y="140.19" text-anchor="end" class="k" textLength="11.28" lengthAdjust="spacingAndGlyphs">0.5</text>
<text x="27.2" y="118.77" text-anchor="end" class="k" textLength="4.51" lengthAdjust="spacingAndGlyphs">1</text>
<text x="118.1" y="103.6" text-anchor="middle" font-size="8.0" textLength="130.3" lengthAdjust="spacingAndGlyphs">LMD-SVD-FCM-bear12-Normal</text>
<text transform="translate(11.8 134.95) rotate(-90)" x="0" y="0" text-anchor="middle" font-size="10.2" textLength="12.8" lengthAdjust="spacingAndGlyphs">CV</text>
<text x="261.5" y="174" text-anchor="middle" class="k" textLength="4.51" lengthAdjust="spacingAndGlyphs">0</text>
<text x="296.6" y="174" text-anchor="middle" class="k" textLength="13.53" lengthAdjust="spacingAndGlyphs">200</text>
<text x="331.7" y="174" text-anchor="middle" class="k" textLength="13.53" lengthAdjust="spacingAndGlyphs">400</text>
<text x="366.8" y="174" text-anchor="middle" class="k" textLength="13.53" lengthAdjust="spacingAndGlyphs">600</text>
<text x="401.9" y="174" text-anchor="middle" class="k" textLength="13.53" lengthAdjust="spacingAndGlyphs">800</text>
<text x="437" y="174" text-anchor="middle" class="k" textLength="18.04" lengthAdjust="spacingAndGlyphs">1000</text>
<text x="258.1" y="165.9" text-anchor="end" class="k" textLength="4.51" lengthAdjust="spacingAndGlyphs">0</text>
<text x="258.1" y="138.05" text-anchor="end" class="k" textLength="11.28" lengthAdjust="spacingAndGlyphs">0.5</text>
<text x="258.1" y="110.2" text-anchor="end" class="k" textLength="4.51" lengthAdjust="spacingAndGlyphs">1</text>
<text x="349.25" y="103.6" text-anchor="middle" font-size="8.0" textLength="126.9" lengthAdjust="spacingAndGlyphs">LMD-SVD-FCM-bear12-Severe</text>
<text x="349.25" y="184.9" text-anchor="middle" font-size="8.7" textLength="20" lengthAdjust="spacingAndGlyphs">Time</text>
<text x="30.6" y="270.3" text-anchor="middle" class="k" textLength="4.51" lengthAdjust="spacingAndGlyphs">0</text>
<text x="74.35" y="270.3" text-anchor="middle" class="k" textLength="13.53" lengthAdjust="spacingAndGlyphs">500</text>
<text x="118.1" y="270.3" text-anchor="middle" class="k" textLength="18.04" lengthAdjust="spacingAndGlyphs">1000</text>
<text x="161.85" y="270.3" text-anchor="middle" class="k" textLength="18.04" lengthAdjust="spacingAndGlyphs">1500</text>
<text x="205.6" y="270.3" text-anchor="middle" class="k" textLength="18.04" lengthAdjust="spacingAndGlyphs">2000</text>
<text x="27.2" y="262.2" text-anchor="end" class="k" textLength="4.51" lengthAdjust="spacingAndGlyphs">0</text>
<text x="27.2" y="239.24" text-anchor="end" class="k" textLength="11.28" lengthAdjust="spacingAndGlyphs">0.5</text>
<text x="27.2" y="216.28" text-anchor="end" class="k" textLength="4.51" lengthAdjust="spacingAndGlyphs">1</text>
<text x="118.1" y="200.5" text-anchor="middle" font-size="8.0" textLength="130.4" lengthAdjust="spacingAndGlyphs">LMD-SVD-FCM-bear13-Normal</text>
<text transform="translate(11.8 231.55) rotate(-90)" x="0" y="0" text-anchor="middle" font-size="10.2" textLength="12.8" lengthAdjust="spacingAndGlyphs">CV</text>
<text x="261.5" y="270.3" text-anchor="middle" class="k" textLength="4.51" lengthAdjust="spacingAndGlyphs">0</text>
<text x="305.38" y="270.3" text-anchor="middle" class="k" textLength="13.53" lengthAdjust="spacingAndGlyphs">500</text>
<text x="349.25" y="270.3" text-anchor="middle" class="k" textLength="18.04" lengthAdjust="spacingAndGlyphs">1000</text>
<text x="393.12" y="270.3" text-anchor="middle" class="k" textLength="18.04" lengthAdjust="spacingAndGlyphs">1500</text>
<text x="437" y="270.3" text-anchor="middle" class="k" textLength="18.04" lengthAdjust="spacingAndGlyphs">2000</text>
<text x="258.1" y="262.2" text-anchor="end" class="k" textLength="4.51" lengthAdjust="spacingAndGlyphs">0</text>
<text x="258.1" y="234.65" text-anchor="end" class="k" textLength="11.28" lengthAdjust="spacingAndGlyphs">0.5</text>
<text x="258.1" y="207.1" text-anchor="end" class="k" textLength="4.51" lengthAdjust="spacingAndGlyphs">1</text>
<text x="349.25" y="200.5" text-anchor="middle" font-size="8.0" textLength="126" lengthAdjust="spacingAndGlyphs">LMD-SVD-FCM-bear13-Severe</text>
<text x="349.25" y="281.2" text-anchor="middle" font-size="8.7" textLength="20" lengthAdjust="spacingAndGlyphs">Time</text>
<text x="492.4" y="270.3" text-anchor="middle" class="k" textLength="4.51" lengthAdjust="spacingAndGlyphs">0</text>
<text x="536.2" y="270.3" text-anchor="middle" class="k" textLength="13.53" lengthAdjust="spacingAndGlyphs">500</text>
<text x="580" y="270.3" text-anchor="middle" class="k" textLength="18.04" lengthAdjust="spacingAndGlyphs">1000</text>
<text x="623.8" y="270.3" text-anchor="middle" class="k" textLength="18.04" lengthAdjust="spacingAndGlyphs">1500</text>
<text x="667.6" y="270.3" text-anchor="middle" class="k" textLength="18.04" lengthAdjust="spacingAndGlyphs">2000</text>
<text x="489" y="257.96" text-anchor="end" class="k" textLength="4.51" lengthAdjust="spacingAndGlyphs">0</text>
<text x="489" y="236.77" text-anchor="end" class="k" textLength="11.28" lengthAdjust="spacingAndGlyphs">0.5</text>
<text x="489" y="215.58" text-anchor="end" class="k" textLength="4.51" lengthAdjust="spacingAndGlyphs">1</text>
<text x="580" y="200.5" text-anchor="middle" font-size="8.0" textLength="123" lengthAdjust="spacingAndGlyphs">LMD-SVD-FCM-bear13-Slight</text>
<text x="30.6" y="366.1" text-anchor="middle" class="k" textLength="4.51" lengthAdjust="spacingAndGlyphs">0</text>
<text x="59.77" y="366.1" text-anchor="middle" class="k" textLength="13.53" lengthAdjust="spacingAndGlyphs">200</text>
<text x="88.93" y="366.1" text-anchor="middle" class="k" textLength="13.53" lengthAdjust="spacingAndGlyphs">400</text>
<text x="118.1" y="366.1" text-anchor="middle" class="k" textLength="13.53" lengthAdjust="spacingAndGlyphs">600</text>
<text x="147.27" y="366.1" text-anchor="middle" class="k" textLength="13.53" lengthAdjust="spacingAndGlyphs">800</text>
<text x="176.43" y="366.1" text-anchor="middle" class="k" textLength="18.04" lengthAdjust="spacingAndGlyphs">1000</text>
<text x="205.6" y="366.1" text-anchor="middle" class="k" textLength="18.04" lengthAdjust="spacingAndGlyphs">1200</text>
<text x="27.2" y="358" text-anchor="end" class="k" textLength="4.51" lengthAdjust="spacingAndGlyphs">0</text>
<text x="27.2" y="334.92" text-anchor="end" class="k" textLength="11.28" lengthAdjust="spacingAndGlyphs">0.5</text>
<text x="27.2" y="311.83" text-anchor="end" class="k" textLength="4.51" lengthAdjust="spacingAndGlyphs">1</text>
<text x="118.1" y="296" text-anchor="middle" font-size="8.0" textLength="130.4" lengthAdjust="spacingAndGlyphs">LMD-SVD-FCM-bear14-Normal</text>
<text x="118.1" y="377" text-anchor="middle" font-size="8.7" textLength="20" lengthAdjust="spacingAndGlyphs">Time</text>
<text transform="translate(11.8 327.2) rotate(-90)" x="0" y="0" text-anchor="middle" font-size="10.2" textLength="12.8" lengthAdjust="spacingAndGlyphs">CV</text>
<text x="261.5" y="366.1" text-anchor="middle" class="k" textLength="4.51" lengthAdjust="spacingAndGlyphs">0</text>
<text x="290.75" y="366.1" text-anchor="middle" class="k" textLength="13.53" lengthAdjust="spacingAndGlyphs">200</text>
<text x="320" y="366.1" text-anchor="middle" class="k" textLength="13.53" lengthAdjust="spacingAndGlyphs">400</text>
<text x="349.25" y="366.1" text-anchor="middle" class="k" textLength="13.53" lengthAdjust="spacingAndGlyphs">600</text>
<text x="378.5" y="366.1" text-anchor="middle" class="k" textLength="13.53" lengthAdjust="spacingAndGlyphs">800</text>
<text x="407.75" y="366.1" text-anchor="middle" class="k" textLength="18.04" lengthAdjust="spacingAndGlyphs">1000</text>
<text x="437" y="366.1" text-anchor="middle" class="k" textLength="18.04" lengthAdjust="spacingAndGlyphs">1200</text>
<text x="258.1" y="353.74" text-anchor="end" class="k" textLength="4.51" lengthAdjust="spacingAndGlyphs">0</text>
<text x="258.1" y="332.43" text-anchor="end" class="k" textLength="11.28" lengthAdjust="spacingAndGlyphs">0.5</text>
<text x="258.1" y="311.12" text-anchor="end" class="k" textLength="4.51" lengthAdjust="spacingAndGlyphs">1</text>
<text x="349.25" y="296" text-anchor="middle" font-size="8.0" textLength="123.3" lengthAdjust="spacingAndGlyphs">LMD-SVD-FCM-bear14-Slight</text>
<text x="349.25" y="377" text-anchor="middle" font-size="8.7" textLength="20" lengthAdjust="spacingAndGlyphs">Time</text>
<text x="492.4" y="366.1" text-anchor="middle" class="k" textLength="4.51" lengthAdjust="spacingAndGlyphs">0</text>
<text x="521.6" y="366.1" text-anchor="middle" class="k" textLength="13.53" lengthAdjust="spacingAndGlyphs">200</text>
<text x="550.8" y="366.1" text-anchor="middle" class="k" textLength="13.53" lengthAdjust="spacingAndGlyphs">400</text>
<text x="580" y="366.1" text-anchor="middle" class="k" textLength="13.53" lengthAdjust="spacingAndGlyphs">600</text>
<text x="609.2" y="366.1" text-anchor="middle" class="k" textLength="13.53" lengthAdjust="spacingAndGlyphs">800</text>
<text x="638.4" y="366.1" text-anchor="middle" class="k" textLength="18.04" lengthAdjust="spacingAndGlyphs">1000</text>
<text x="667.6" y="366.1" text-anchor="middle" class="k" textLength="18.04" lengthAdjust="spacingAndGlyphs">1200</text>
<text x="489" y="358" text-anchor="end" class="k" textLength="4.51" lengthAdjust="spacingAndGlyphs">0</text>
<text x="489" y="330.3" text-anchor="end" class="k" textLength="11.28" lengthAdjust="spacingAndGlyphs">0.5</text>
<text x="489" y="302.6" text-anchor="end" class="k" textLength="4.51" lengthAdjust="spacingAndGlyphs">1</text>
<text x="580" y="296" text-anchor="middle" font-size="8.0" textLength="126.9" lengthAdjust="spacingAndGlyphs">LMD-SVD-FCM-bear14-Severe</text>
<text x="580" y="377" text-anchor="middle" font-size="8.7" textLength="20" lengthAdjust="spacingAndGlyphs">Time</text>
<text x="677.8" y="19.3" text-anchor="middle" font-size="9.4" class="k">a</text>
<text x="452.9" y="115.6" text-anchor="middle" font-size="9.4" class="k">a</text>
<text x="677.4" y="210.6" text-anchor="middle" font-size="9.4" class="k">c</text>
<text x="679.4" y="308.6" text-anchor="middle" font-size="9.4" class="k">d</text>
</g>
</svg>
</body></html>
